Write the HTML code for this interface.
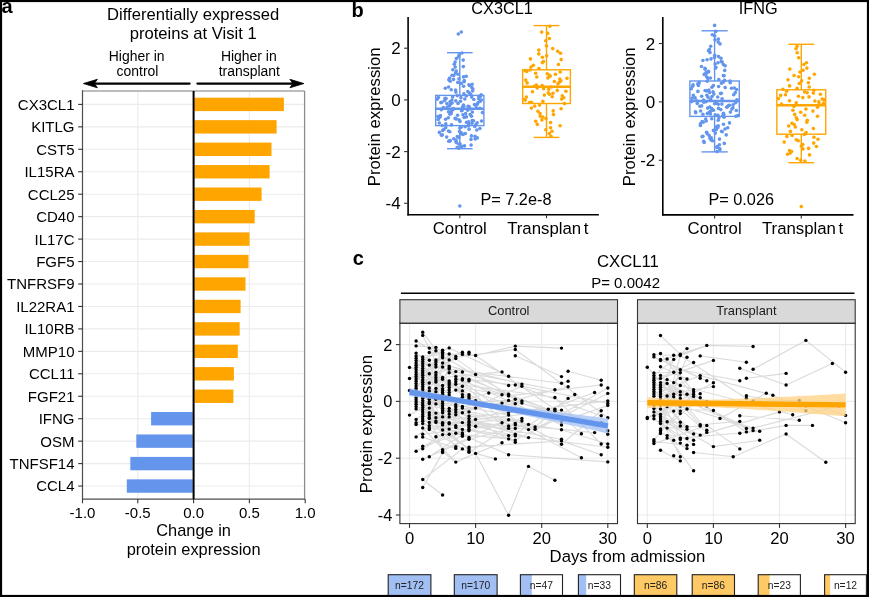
<!DOCTYPE html>
<html><head><meta charset="utf-8"><style>
html,body{margin:0;padding:0;background:#fff;width:869px;height:597px;overflow:hidden}
svg{display:block;filter:blur(0.35px)}
text{font-family:"Liberation Sans", sans-serif}
</style></head><body>
<svg width="869" height="597" viewBox="0 0 869 597" font-family='"Liberation Sans", sans-serif'><line x1="82.5" y1="104.4" x2="304.6" y2="104.4" stroke="#EBEBEB" stroke-width="1.1"/>
<line x1="82.5" y1="126.85000000000001" x2="304.6" y2="126.85000000000001" stroke="#EBEBEB" stroke-width="1.1"/>
<line x1="82.5" y1="149.3" x2="304.6" y2="149.3" stroke="#EBEBEB" stroke-width="1.1"/>
<line x1="82.5" y1="171.75" x2="304.6" y2="171.75" stroke="#EBEBEB" stroke-width="1.1"/>
<line x1="82.5" y1="194.2" x2="304.6" y2="194.2" stroke="#EBEBEB" stroke-width="1.1"/>
<line x1="82.5" y1="216.65" x2="304.6" y2="216.65" stroke="#EBEBEB" stroke-width="1.1"/>
<line x1="82.5" y1="239.1" x2="304.6" y2="239.1" stroke="#EBEBEB" stroke-width="1.1"/>
<line x1="82.5" y1="261.55" x2="304.6" y2="261.55" stroke="#EBEBEB" stroke-width="1.1"/>
<line x1="82.5" y1="284.0" x2="304.6" y2="284.0" stroke="#EBEBEB" stroke-width="1.1"/>
<line x1="82.5" y1="306.45" x2="304.6" y2="306.45" stroke="#EBEBEB" stroke-width="1.1"/>
<line x1="82.5" y1="328.9" x2="304.6" y2="328.9" stroke="#EBEBEB" stroke-width="1.1"/>
<line x1="82.5" y1="351.35" x2="304.6" y2="351.35" stroke="#EBEBEB" stroke-width="1.1"/>
<line x1="82.5" y1="373.79999999999995" x2="304.6" y2="373.79999999999995" stroke="#EBEBEB" stroke-width="1.1"/>
<line x1="82.5" y1="396.25" x2="304.6" y2="396.25" stroke="#EBEBEB" stroke-width="1.1"/>
<line x1="82.5" y1="418.70000000000005" x2="304.6" y2="418.70000000000005" stroke="#EBEBEB" stroke-width="1.1"/>
<line x1="82.5" y1="441.15" x2="304.6" y2="441.15" stroke="#EBEBEB" stroke-width="1.1"/>
<line x1="82.5" y1="463.6" x2="304.6" y2="463.6" stroke="#EBEBEB" stroke-width="1.1"/>
<line x1="82.5" y1="486.04999999999995" x2="304.6" y2="486.04999999999995" stroke="#EBEBEB" stroke-width="1.1"/>
<line x1="137.8" y1="91.0" x2="137.8" y2="499.2" stroke="#EBEBEB" stroke-width="1.1"/>
<line x1="249.4" y1="91.0" x2="249.4" y2="499.2" stroke="#EBEBEB" stroke-width="1.1"/>
<rect x="194.4" y="97.7" width="89.49999999999999" height="13.4" fill="#FFA500" stroke="none" stroke-width="1"/>
<rect x="194.4" y="120.15" width="82.20000000000003" height="13.4" fill="#FFA500" stroke="none" stroke-width="1"/>
<rect x="194.4" y="142.60000000000002" width="77.10000000000001" height="13.4" fill="#FFA500" stroke="none" stroke-width="1"/>
<rect x="194.4" y="165.05" width="75.20000000000003" height="13.4" fill="#FFA500" stroke="none" stroke-width="1"/>
<rect x="194.4" y="187.5" width="67.20000000000003" height="13.4" fill="#FFA500" stroke="none" stroke-width="1"/>
<rect x="194.4" y="209.95000000000002" width="60.3" height="13.4" fill="#FFA500" stroke="none" stroke-width="1"/>
<rect x="194.4" y="232.4" width="55.10000000000001" height="13.4" fill="#FFA500" stroke="none" stroke-width="1"/>
<rect x="194.4" y="254.85000000000002" width="54.10000000000001" height="13.4" fill="#FFA500" stroke="none" stroke-width="1"/>
<rect x="194.4" y="277.3" width="51.10000000000001" height="13.4" fill="#FFA500" stroke="none" stroke-width="1"/>
<rect x="194.4" y="299.75" width="46.2" height="13.4" fill="#FFA500" stroke="none" stroke-width="1"/>
<rect x="194.4" y="322.2" width="45.3" height="13.4" fill="#FFA500" stroke="none" stroke-width="1"/>
<rect x="194.4" y="344.65000000000003" width="43.40000000000002" height="13.4" fill="#FFA500" stroke="none" stroke-width="1"/>
<rect x="194.4" y="367.09999999999997" width="39.500000000000014" height="13.4" fill="#FFA500" stroke="none" stroke-width="1"/>
<rect x="194.4" y="389.55" width="39.000000000000014" height="13.4" fill="#FFA500" stroke="none" stroke-width="1"/>
<rect x="151.1" y="412.00000000000006" width="41.69999999999999" height="13.4" fill="#6495ED" stroke="none" stroke-width="1"/>
<rect x="136.3" y="434.45" width="56.49999999999997" height="13.4" fill="#6495ED" stroke="none" stroke-width="1"/>
<rect x="130.3" y="456.90000000000003" width="62.49999999999997" height="13.4" fill="#6495ED" stroke="none" stroke-width="1"/>
<rect x="126.8" y="479.34999999999997" width="65.99999999999999" height="13.4" fill="#6495ED" stroke="none" stroke-width="1"/>
<line x1="82.5" y1="91.0" x2="304.6" y2="91.0" stroke="#A6A6A6" stroke-width="1.6"/>
<line x1="304.6" y1="91.0" x2="304.6" y2="499.2" stroke="#8C8C8C" stroke-width="1.3"/>
<line x1="82.5" y1="90.2" x2="82.5" y2="499.7" stroke="#4D4D4D" stroke-width="1.2"/>
<line x1="82.0" y1="499.2" x2="305.20000000000005" y2="499.2" stroke="#4D4D4D" stroke-width="1.2"/>
<line x1="193.6" y1="91.0" x2="193.6" y2="499.2" stroke="#000" stroke-width="2.0"/>
<line x1="78.2" y1="104.4" x2="82.5" y2="104.4" stroke="#333" stroke-width="1.1"/>
<text x="74.5" y="109.80000000000001" font-size="15" text-anchor="end" fill="#000">CX3CL1</text>
<line x1="78.2" y1="126.85000000000001" x2="82.5" y2="126.85000000000001" stroke="#333" stroke-width="1.1"/>
<text x="74.5" y="132.25" font-size="15" text-anchor="end" fill="#000">KITLG</text>
<line x1="78.2" y1="149.3" x2="82.5" y2="149.3" stroke="#333" stroke-width="1.1"/>
<text x="74.5" y="154.70000000000002" font-size="15" text-anchor="end" fill="#000">CST5</text>
<line x1="78.2" y1="171.75" x2="82.5" y2="171.75" stroke="#333" stroke-width="1.1"/>
<text x="74.5" y="177.15" font-size="15" text-anchor="end" fill="#000">IL15RA</text>
<line x1="78.2" y1="194.2" x2="82.5" y2="194.2" stroke="#333" stroke-width="1.1"/>
<text x="74.5" y="199.6" font-size="15" text-anchor="end" fill="#000">CCL25</text>
<line x1="78.2" y1="216.65" x2="82.5" y2="216.65" stroke="#333" stroke-width="1.1"/>
<text x="74.5" y="222.05" font-size="15" text-anchor="end" fill="#000">CD40</text>
<line x1="78.2" y1="239.1" x2="82.5" y2="239.1" stroke="#333" stroke-width="1.1"/>
<text x="74.5" y="244.5" font-size="15" text-anchor="end" fill="#000">IL17C</text>
<line x1="78.2" y1="261.55" x2="82.5" y2="261.55" stroke="#333" stroke-width="1.1"/>
<text x="74.5" y="266.95" font-size="15" text-anchor="end" fill="#000">FGF5</text>
<line x1="78.2" y1="284.0" x2="82.5" y2="284.0" stroke="#333" stroke-width="1.1"/>
<text x="74.5" y="289.4" font-size="15" text-anchor="end" fill="#000">TNFRSF9</text>
<line x1="78.2" y1="306.45" x2="82.5" y2="306.45" stroke="#333" stroke-width="1.1"/>
<text x="74.5" y="311.84999999999997" font-size="15" text-anchor="end" fill="#000">IL22RA1</text>
<line x1="78.2" y1="328.9" x2="82.5" y2="328.9" stroke="#333" stroke-width="1.1"/>
<text x="74.5" y="334.29999999999995" font-size="15" text-anchor="end" fill="#000">IL10RB</text>
<line x1="78.2" y1="351.35" x2="82.5" y2="351.35" stroke="#333" stroke-width="1.1"/>
<text x="74.5" y="356.75" font-size="15" text-anchor="end" fill="#000">MMP10</text>
<line x1="78.2" y1="373.79999999999995" x2="82.5" y2="373.79999999999995" stroke="#333" stroke-width="1.1"/>
<text x="74.5" y="379.19999999999993" font-size="15" text-anchor="end" fill="#000">CCL11</text>
<line x1="78.2" y1="396.25" x2="82.5" y2="396.25" stroke="#333" stroke-width="1.1"/>
<text x="74.5" y="401.65" font-size="15" text-anchor="end" fill="#000">FGF21</text>
<line x1="78.2" y1="418.70000000000005" x2="82.5" y2="418.70000000000005" stroke="#333" stroke-width="1.1"/>
<text x="74.5" y="424.1" font-size="15" text-anchor="end" fill="#000">IFNG</text>
<line x1="78.2" y1="441.15" x2="82.5" y2="441.15" stroke="#333" stroke-width="1.1"/>
<text x="74.5" y="446.54999999999995" font-size="15" text-anchor="end" fill="#000">OSM</text>
<line x1="78.2" y1="463.6" x2="82.5" y2="463.6" stroke="#333" stroke-width="1.1"/>
<text x="74.5" y="469.0" font-size="15" text-anchor="end" fill="#000">TNFSF14</text>
<line x1="78.2" y1="486.04999999999995" x2="82.5" y2="486.04999999999995" stroke="#333" stroke-width="1.1"/>
<text x="74.5" y="491.44999999999993" font-size="15" text-anchor="end" fill="#000">CCL4</text>
<line x1="82.5" y1="499.2" x2="82.5" y2="503.2" stroke="#333" stroke-width="1.1"/>
<text x="82.5" y="518" font-size="15" text-anchor="middle" fill="#000">-1.0</text>
<line x1="137.8" y1="499.2" x2="137.8" y2="503.2" stroke="#333" stroke-width="1.1"/>
<text x="137.8" y="518" font-size="15" text-anchor="middle" fill="#000">-0.5</text>
<line x1="193.6" y1="499.2" x2="193.6" y2="503.2" stroke="#333" stroke-width="1.1"/>
<text x="193.6" y="518" font-size="15" text-anchor="middle" fill="#000">0.0</text>
<line x1="249.4" y1="499.2" x2="249.4" y2="503.2" stroke="#333" stroke-width="1.1"/>
<text x="249.4" y="518" font-size="15" text-anchor="middle" fill="#000">0.5</text>
<line x1="305.2" y1="499.2" x2="305.2" y2="503.2" stroke="#333" stroke-width="1.1"/>
<text x="305.2" y="518" font-size="15" text-anchor="middle" fill="#000">1.0</text>
<text x="193.6" y="536.2" font-size="16.4" text-anchor="middle" fill="#000">Change in</text>
<text x="193.6" y="555.0" font-size="16.4" text-anchor="middle" fill="#000">protein expression</text>
<text x="193.2" y="19.9" font-size="16.6" text-anchor="middle" fill="#000">Differentially expressed</text>
<text x="193.2" y="38.6" font-size="16.6" text-anchor="middle" fill="#000">proteins at Visit 1</text>
<text x="136.7" y="61.3" font-size="13.95" text-anchor="middle" fill="#000">Higher in</text>
<text x="137.5" y="76.3" font-size="13.95" text-anchor="middle" fill="#000">control</text>
<text x="248.8" y="61.3" font-size="13.95" text-anchor="middle" fill="#000">Higher in</text>
<text x="249.3" y="76.3" font-size="13.95" text-anchor="middle" fill="#000">transplant</text>
<line x1="189.6" y1="83.55" x2="95" y2="83.55" stroke="#000" stroke-width="2.2" stroke-linecap="round"/>
<path d="M83.4 83.55 L97.4 79.3 L94.4 83.55 L97.4 87.8 Z" fill="#000" stroke="#000" stroke-width="0.8" stroke-linejoin="round"/>
<line x1="197.4" y1="83.55" x2="292" y2="83.55" stroke="#000" stroke-width="2.2" stroke-linecap="round"/>
<path d="M303.9 83.55 L289.9 79.3 L292.9 83.55 L289.9 87.8 Z" fill="#000" stroke="#000" stroke-width="0.8" stroke-linejoin="round"/>
<text x="1.5" y="13.4" font-size="20" text-anchor="start" font-weight="bold" fill="#000">a</text>
<line x1="408.1" y1="17" x2="408.1" y2="215.39999999999998" stroke="#000" stroke-width="1.6"/>
<line x1="407.40000000000003" y1="214.7" x2="598.9" y2="214.7" stroke="#000" stroke-width="1.6"/>
<line x1="404.1" y1="48.2" x2="408.1" y2="48.2" stroke="#333" stroke-width="1.1"/>
<text x="400.6" y="54.2" font-size="17" text-anchor="end" fill="#000">2</text>
<line x1="404.1" y1="99.9" x2="408.1" y2="99.9" stroke="#333" stroke-width="1.1"/>
<text x="400.6" y="105.9" font-size="17" text-anchor="end" fill="#000">0</text>
<line x1="404.1" y1="151.60000000000002" x2="408.1" y2="151.60000000000002" stroke="#333" stroke-width="1.1"/>
<text x="400.6" y="157.60000000000002" font-size="17" text-anchor="end" fill="#000">-2</text>
<line x1="404.1" y1="203.3" x2="408.1" y2="203.3" stroke="#333" stroke-width="1.1"/>
<text x="400.6" y="209.3" font-size="17" text-anchor="end" fill="#000">-4</text>
<line x1="459.8" y1="214.7" x2="459.8" y2="218.2" stroke="#333" stroke-width="1.1"/>
<text x="459.8" y="234.4" font-size="16.8" text-anchor="middle" fill="#000">Control</text>
<line x1="546.5" y1="214.7" x2="546.5" y2="218.2" stroke="#333" stroke-width="1.1"/>
<text x="547.8" y="234.4" font-size="16.8" text-anchor="middle">Transplan<tspan dx="2.6">t</tspan></text>
<text x="502.1" y="14.3" font-size="16.3" text-anchor="middle" fill="#000">CX3CL1</text>
<text x="480.4" y="204.8" font-size="16.3" text-anchor="start" fill="#000">P= 7.2e-8</text>
<text x="380.2" y="116.8" font-size="16.8" text-anchor="middle" fill="#000" transform="rotate(-90 380.2 116.8)">Protein expression</text>
<circle cx="458.9" cy="148.3" r="1.8" fill="#6495ED"/>
<circle cx="457.2" cy="147.5" r="1.8" fill="#6495ED"/>
<circle cx="461.8" cy="146.4" r="1.8" fill="#6495ED"/>
<circle cx="464.5" cy="145.9" r="1.8" fill="#6495ED"/>
<circle cx="471.1" cy="145.1" r="1.8" fill="#6495ED"/>
<circle cx="459.1" cy="144.2" r="1.8" fill="#6495ED"/>
<circle cx="460.0" cy="143.7" r="1.8" fill="#6495ED"/>
<circle cx="456.4" cy="142.6" r="1.8" fill="#6495ED"/>
<circle cx="456.0" cy="141.8" r="1.8" fill="#6495ED"/>
<circle cx="448.7" cy="141.2" r="1.8" fill="#6495ED"/>
<circle cx="450.1" cy="141.0" r="1.8" fill="#6495ED"/>
<circle cx="450.0" cy="140.5" r="1.8" fill="#6495ED"/>
<circle cx="456.0" cy="140.1" r="1.8" fill="#6495ED"/>
<circle cx="471.0" cy="139.4" r="1.8" fill="#6495ED"/>
<circle cx="475.2" cy="138.9" r="1.8" fill="#6495ED"/>
<circle cx="453.7" cy="138.7" r="1.8" fill="#6495ED"/>
<circle cx="477.3" cy="137.9" r="1.8" fill="#6495ED"/>
<circle cx="458.9" cy="137.4" r="1.8" fill="#6495ED"/>
<circle cx="446.7" cy="137.1" r="1.8" fill="#6495ED"/>
<circle cx="457.3" cy="136.6" r="1.8" fill="#6495ED"/>
<circle cx="475.0" cy="136.3" r="1.8" fill="#6495ED"/>
<circle cx="471.4" cy="135.9" r="1.8" fill="#6495ED"/>
<circle cx="441.4" cy="135.2" r="1.8" fill="#6495ED"/>
<circle cx="442.3" cy="134.9" r="1.8" fill="#6495ED"/>
<circle cx="463.2" cy="134.4" r="1.8" fill="#6495ED"/>
<circle cx="460.6" cy="133.9" r="1.8" fill="#6495ED"/>
<circle cx="465.3" cy="133.5" r="1.8" fill="#6495ED"/>
<circle cx="461.3" cy="132.9" r="1.8" fill="#6495ED"/>
<circle cx="439.4" cy="132.4" r="1.8" fill="#6495ED"/>
<circle cx="449.8" cy="131.8" r="1.8" fill="#6495ED"/>
<circle cx="459.5" cy="131.5" r="1.8" fill="#6495ED"/>
<circle cx="448.4" cy="131.0" r="1.8" fill="#6495ED"/>
<circle cx="442.6" cy="130.5" r="1.8" fill="#6495ED"/>
<circle cx="476.8" cy="130.0" r="1.8" fill="#6495ED"/>
<circle cx="443.8" cy="129.6" r="1.8" fill="#6495ED"/>
<circle cx="469.1" cy="129.2" r="1.8" fill="#6495ED"/>
<circle cx="479.9" cy="128.5" r="1.8" fill="#6495ED"/>
<circle cx="459.8" cy="128.0" r="1.8" fill="#6495ED"/>
<circle cx="445.7" cy="127.6" r="1.8" fill="#6495ED"/>
<circle cx="461.2" cy="127.2" r="1.8" fill="#6495ED"/>
<circle cx="465.1" cy="126.8" r="1.8" fill="#6495ED"/>
<circle cx="474.8" cy="126.4" r="1.8" fill="#6495ED"/>
<circle cx="468.4" cy="125.9" r="1.8" fill="#6495ED"/>
<circle cx="442.2" cy="125.5" r="1.8" fill="#6495ED"/>
<circle cx="451.5" cy="124.9" r="1.8" fill="#6495ED"/>
<circle cx="475.8" cy="124.7" r="1.8" fill="#6495ED"/>
<circle cx="468.8" cy="124.1" r="1.8" fill="#6495ED"/>
<circle cx="445.8" cy="123.9" r="1.8" fill="#6495ED"/>
<circle cx="472.0" cy="123.3" r="1.8" fill="#6495ED"/>
<circle cx="439.3" cy="123.0" r="1.8" fill="#6495ED"/>
<circle cx="477.1" cy="122.8" r="1.8" fill="#6495ED"/>
<circle cx="466.6" cy="122.4" r="1.8" fill="#6495ED"/>
<circle cx="468.6" cy="121.8" r="1.8" fill="#6495ED"/>
<circle cx="460.0" cy="121.5" r="1.8" fill="#6495ED"/>
<circle cx="481.5" cy="121.0" r="1.8" fill="#6495ED"/>
<circle cx="473.5" cy="120.7" r="1.8" fill="#6495ED"/>
<circle cx="472.2" cy="120.5" r="1.8" fill="#6495ED"/>
<circle cx="459.1" cy="119.9" r="1.8" fill="#6495ED"/>
<circle cx="438.2" cy="119.5" r="1.8" fill="#6495ED"/>
<circle cx="445.6" cy="119.2" r="1.8" fill="#6495ED"/>
<circle cx="456.2" cy="118.9" r="1.8" fill="#6495ED"/>
<circle cx="455.1" cy="118.4" r="1.8" fill="#6495ED"/>
<circle cx="448.3" cy="117.8" r="1.8" fill="#6495ED"/>
<circle cx="464.1" cy="117.5" r="1.8" fill="#6495ED"/>
<circle cx="439.9" cy="117.3" r="1.8" fill="#6495ED"/>
<circle cx="466.4" cy="116.9" r="1.8" fill="#6495ED"/>
<circle cx="437.9" cy="116.5" r="1.8" fill="#6495ED"/>
<circle cx="471.5" cy="116.2" r="1.8" fill="#6495ED"/>
<circle cx="440.4" cy="115.5" r="1.8" fill="#6495ED"/>
<circle cx="457.6" cy="115.3" r="1.8" fill="#6495ED"/>
<circle cx="463.0" cy="114.8" r="1.8" fill="#6495ED"/>
<circle cx="470.2" cy="114.5" r="1.8" fill="#6495ED"/>
<circle cx="449.9" cy="114.2" r="1.8" fill="#6495ED"/>
<circle cx="465.6" cy="113.6" r="1.8" fill="#6495ED"/>
<circle cx="451.2" cy="113.4" r="1.8" fill="#6495ED"/>
<circle cx="450.8" cy="112.9" r="1.8" fill="#6495ED"/>
<circle cx="482.4" cy="112.6" r="1.8" fill="#6495ED"/>
<circle cx="472.4" cy="112.1" r="1.8" fill="#6495ED"/>
<circle cx="448.5" cy="111.8" r="1.8" fill="#6495ED"/>
<circle cx="451.4" cy="111.4" r="1.8" fill="#6495ED"/>
<circle cx="461.6" cy="110.8" r="1.8" fill="#6495ED"/>
<circle cx="462.0" cy="110.5" r="1.8" fill="#6495ED"/>
<circle cx="467.7" cy="110.2" r="1.8" fill="#6495ED"/>
<circle cx="441.3" cy="109.7" r="1.8" fill="#6495ED"/>
<circle cx="453.0" cy="109.5" r="1.8" fill="#6495ED"/>
<circle cx="470.6" cy="109.0" r="1.8" fill="#6495ED"/>
<circle cx="453.3" cy="108.6" r="1.8" fill="#6495ED"/>
<circle cx="479.9" cy="108.3" r="1.8" fill="#6495ED"/>
<circle cx="476.7" cy="108.1" r="1.8" fill="#6495ED"/>
<circle cx="443.3" cy="107.6" r="1.8" fill="#6495ED"/>
<circle cx="462.7" cy="107.5" r="1.8" fill="#6495ED"/>
<circle cx="447.2" cy="107.1" r="1.8" fill="#6495ED"/>
<circle cx="462.9" cy="106.7" r="1.8" fill="#6495ED"/>
<circle cx="469.1" cy="106.5" r="1.8" fill="#6495ED"/>
<circle cx="468.1" cy="106.2" r="1.8" fill="#6495ED"/>
<circle cx="463.8" cy="105.9" r="1.8" fill="#6495ED"/>
<circle cx="449.7" cy="105.6" r="1.8" fill="#6495ED"/>
<circle cx="475.6" cy="105.2" r="1.8" fill="#6495ED"/>
<circle cx="463.4" cy="105.0" r="1.8" fill="#6495ED"/>
<circle cx="474.5" cy="104.6" r="1.8" fill="#6495ED"/>
<circle cx="477.2" cy="104.3" r="1.8" fill="#6495ED"/>
<circle cx="450.5" cy="104.0" r="1.8" fill="#6495ED"/>
<circle cx="446.9" cy="103.5" r="1.8" fill="#6495ED"/>
<circle cx="458.0" cy="103.4" r="1.8" fill="#6495ED"/>
<circle cx="452.1" cy="103.0" r="1.8" fill="#6495ED"/>
<circle cx="440.8" cy="102.6" r="1.8" fill="#6495ED"/>
<circle cx="478.1" cy="102.5" r="1.8" fill="#6495ED"/>
<circle cx="441.8" cy="102.2" r="1.8" fill="#6495ED"/>
<circle cx="450.1" cy="101.7" r="1.8" fill="#6495ED"/>
<circle cx="480.1" cy="101.4" r="1.8" fill="#6495ED"/>
<circle cx="460.5" cy="101.2" r="1.8" fill="#6495ED"/>
<circle cx="455.8" cy="100.9" r="1.8" fill="#6495ED"/>
<circle cx="444.7" cy="100.5" r="1.8" fill="#6495ED"/>
<circle cx="451.9" cy="100.1" r="1.8" fill="#6495ED"/>
<circle cx="481.4" cy="100.0" r="1.8" fill="#6495ED"/>
<circle cx="473.8" cy="99.5" r="1.8" fill="#6495ED"/>
<circle cx="437.2" cy="99.2" r="1.8" fill="#6495ED"/>
<circle cx="464.8" cy="99.0" r="1.8" fill="#6495ED"/>
<circle cx="478.7" cy="98.7" r="1.8" fill="#6495ED"/>
<circle cx="446.1" cy="98.5" r="1.8" fill="#6495ED"/>
<circle cx="445.1" cy="98.2" r="1.8" fill="#6495ED"/>
<circle cx="460.9" cy="97.6" r="1.8" fill="#6495ED"/>
<circle cx="438.4" cy="97.5" r="1.8" fill="#6495ED"/>
<circle cx="471.7" cy="97.1" r="1.8" fill="#6495ED"/>
<circle cx="452.6" cy="96.9" r="1.8" fill="#6495ED"/>
<circle cx="480.3" cy="96.4" r="1.8" fill="#6495ED"/>
<circle cx="478.8" cy="96.2" r="1.8" fill="#6495ED"/>
<circle cx="466.3" cy="95.9" r="1.8" fill="#6495ED"/>
<circle cx="457.3" cy="95.6" r="1.8" fill="#6495ED"/>
<circle cx="481.2" cy="94.9" r="1.8" fill="#6495ED"/>
<circle cx="470.8" cy="94.6" r="1.8" fill="#6495ED"/>
<circle cx="463.9" cy="93.8" r="1.8" fill="#6495ED"/>
<circle cx="469.4" cy="93.0" r="1.8" fill="#6495ED"/>
<circle cx="455.8" cy="92.1" r="1.8" fill="#6495ED"/>
<circle cx="467.8" cy="91.5" r="1.8" fill="#6495ED"/>
<circle cx="472.6" cy="91.0" r="1.8" fill="#6495ED"/>
<circle cx="455.6" cy="90.0" r="1.8" fill="#6495ED"/>
<circle cx="451.2" cy="89.7" r="1.8" fill="#6495ED"/>
<circle cx="472.9" cy="89.1" r="1.8" fill="#6495ED"/>
<circle cx="445.3" cy="88.3" r="1.8" fill="#6495ED"/>
<circle cx="471.9" cy="87.5" r="1.8" fill="#6495ED"/>
<circle cx="448.6" cy="87.0" r="1.8" fill="#6495ED"/>
<circle cx="463.6" cy="86.3" r="1.8" fill="#6495ED"/>
<circle cx="469.5" cy="85.5" r="1.8" fill="#6495ED"/>
<circle cx="468.9" cy="84.7" r="1.8" fill="#6495ED"/>
<circle cx="472.1" cy="84.2" r="1.8" fill="#6495ED"/>
<circle cx="461.3" cy="83.4" r="1.8" fill="#6495ED"/>
<circle cx="457.8" cy="82.4" r="1.8" fill="#6495ED"/>
<circle cx="464.2" cy="81.7" r="1.8" fill="#6495ED"/>
<circle cx="450.2" cy="81.2" r="1.8" fill="#6495ED"/>
<circle cx="464.2" cy="80.5" r="1.8" fill="#6495ED"/>
<circle cx="448.8" cy="79.8" r="1.8" fill="#6495ED"/>
<circle cx="453.5" cy="79.4" r="1.8" fill="#6495ED"/>
<circle cx="459.0" cy="78.8" r="1.8" fill="#6495ED"/>
<circle cx="449.7" cy="78.1" r="1.8" fill="#6495ED"/>
<circle cx="463.5" cy="76.9" r="1.8" fill="#6495ED"/>
<circle cx="466.2" cy="76.3" r="1.8" fill="#6495ED"/>
<circle cx="453.7" cy="75.5" r="1.8" fill="#6495ED"/>
<circle cx="452.1" cy="75.3" r="1.8" fill="#6495ED"/>
<circle cx="458.0" cy="74.3" r="1.8" fill="#6495ED"/>
<circle cx="455.5" cy="73.1" r="1.8" fill="#6495ED"/>
<circle cx="456.2" cy="71.0" r="1.8" fill="#6495ED"/>
<circle cx="452.8" cy="69.8" r="1.8" fill="#6495ED"/>
<circle cx="455.2" cy="67.1" r="1.8" fill="#6495ED"/>
<circle cx="463.3" cy="66.6" r="1.8" fill="#6495ED"/>
<circle cx="454.3" cy="64.2" r="1.8" fill="#6495ED"/>
<circle cx="455.1" cy="62.1" r="1.8" fill="#6495ED"/>
<circle cx="463.2" cy="60.1" r="1.8" fill="#6495ED"/>
<circle cx="456.4" cy="58.6" r="1.8" fill="#6495ED"/>
<circle cx="458.6" cy="56.8" r="1.8" fill="#6495ED"/>
<circle cx="459.1" cy="54.9" r="1.8" fill="#6495ED"/>
<circle cx="462.0" cy="53.0" r="1.8" fill="#6495ED"/>
<rect x="435.7" y="95.4" width="48.2" height="30.19999999999999" fill="none" stroke="#6495ED" stroke-width="1.4"/>
<line x1="435.7" y1="108.8" x2="483.90000000000003" y2="108.8" stroke="#6495ED" stroke-width="2.6"/>
<line x1="459.8" y1="95.4" x2="459.8" y2="52.7" stroke="#6495ED" stroke-width="1.4"/>
<line x1="459.8" y1="125.6" x2="459.8" y2="148.7" stroke="#6495ED" stroke-width="1.4"/>
<line x1="447.0" y1="52.7" x2="472.6" y2="52.7" stroke="#6495ED" stroke-width="1.4"/>
<line x1="447.0" y1="148.7" x2="472.6" y2="148.7" stroke="#6495ED" stroke-width="1.4"/>
<circle cx="458.3" cy="34.0" r="1.8" fill="#6495ED"/>
<circle cx="461.3" cy="32.0" r="1.8" fill="#6495ED"/>
<circle cx="459.8" cy="206.0" r="1.8" fill="#6495ED"/>
<circle cx="551.0" cy="136.3" r="1.8" fill="#FFA500"/>
<circle cx="549.4" cy="133.6" r="1.8" fill="#FFA500"/>
<circle cx="552.0" cy="131.2" r="1.8" fill="#FFA500"/>
<circle cx="545.8" cy="129.8" r="1.8" fill="#FFA500"/>
<circle cx="550.6" cy="127.7" r="1.8" fill="#FFA500"/>
<circle cx="560.1" cy="125.7" r="1.8" fill="#FFA500"/>
<circle cx="537.3" cy="124.4" r="1.8" fill="#FFA500"/>
<circle cx="550.6" cy="122.5" r="1.8" fill="#FFA500"/>
<circle cx="535.7" cy="121.2" r="1.8" fill="#FFA500"/>
<circle cx="541.9" cy="119.9" r="1.8" fill="#FFA500"/>
<circle cx="546.0" cy="118.6" r="1.8" fill="#FFA500"/>
<circle cx="542.8" cy="117.1" r="1.8" fill="#FFA500"/>
<circle cx="540.3" cy="116.3" r="1.8" fill="#FFA500"/>
<circle cx="553.5" cy="114.6" r="1.8" fill="#FFA500"/>
<circle cx="540.0" cy="113.5" r="1.8" fill="#FFA500"/>
<circle cx="537.9" cy="111.3" r="1.8" fill="#FFA500"/>
<circle cx="553.2" cy="110.9" r="1.8" fill="#FFA500"/>
<circle cx="561.1" cy="108.7" r="1.8" fill="#FFA500"/>
<circle cx="531.4" cy="108.1" r="1.8" fill="#FFA500"/>
<circle cx="534.7" cy="106.1" r="1.8" fill="#FFA500"/>
<circle cx="539.6" cy="105.1" r="1.8" fill="#FFA500"/>
<circle cx="564.5" cy="103.6" r="1.8" fill="#FFA500"/>
<circle cx="529.6" cy="102.5" r="1.8" fill="#FFA500"/>
<circle cx="531.4" cy="102.2" r="1.8" fill="#FFA500"/>
<circle cx="542.9" cy="101.4" r="1.8" fill="#FFA500"/>
<circle cx="525.3" cy="100.1" r="1.8" fill="#FFA500"/>
<circle cx="523.9" cy="99.6" r="1.8" fill="#FFA500"/>
<circle cx="561.6" cy="99.1" r="1.8" fill="#FFA500"/>
<circle cx="563.8" cy="97.7" r="1.8" fill="#FFA500"/>
<circle cx="526.4" cy="97.0" r="1.8" fill="#FFA500"/>
<circle cx="552.2" cy="96.7" r="1.8" fill="#FFA500"/>
<circle cx="562.3" cy="95.7" r="1.8" fill="#FFA500"/>
<circle cx="544.3" cy="95.1" r="1.8" fill="#FFA500"/>
<circle cx="549.4" cy="94.2" r="1.8" fill="#FFA500"/>
<circle cx="553.0" cy="93.3" r="1.8" fill="#FFA500"/>
<circle cx="548.3" cy="92.8" r="1.8" fill="#FFA500"/>
<circle cx="532.5" cy="91.7" r="1.8" fill="#FFA500"/>
<circle cx="565.9" cy="91.3" r="1.8" fill="#FFA500"/>
<circle cx="557.3" cy="90.4" r="1.8" fill="#FFA500"/>
<circle cx="548.7" cy="89.2" r="1.8" fill="#FFA500"/>
<circle cx="543.6" cy="88.7" r="1.8" fill="#FFA500"/>
<circle cx="537.2" cy="87.9" r="1.8" fill="#FFA500"/>
<circle cx="551.5" cy="87.0" r="1.8" fill="#FFA500"/>
<circle cx="534.3" cy="86.3" r="1.8" fill="#FFA500"/>
<circle cx="542.2" cy="85.6" r="1.8" fill="#FFA500"/>
<circle cx="536.4" cy="85.0" r="1.8" fill="#FFA500"/>
<circle cx="558.0" cy="83.8" r="1.8" fill="#FFA500"/>
<circle cx="527.1" cy="82.9" r="1.8" fill="#FFA500"/>
<circle cx="559.4" cy="82.1" r="1.8" fill="#FFA500"/>
<circle cx="554.4" cy="81.5" r="1.8" fill="#FFA500"/>
<circle cx="560.9" cy="80.9" r="1.8" fill="#FFA500"/>
<circle cx="525.7" cy="80.1" r="1.8" fill="#FFA500"/>
<circle cx="559.8" cy="79.1" r="1.8" fill="#FFA500"/>
<circle cx="567.0" cy="78.3" r="1.8" fill="#FFA500"/>
<circle cx="547.9" cy="77.9" r="1.8" fill="#FFA500"/>
<circle cx="536.8" cy="77.0" r="1.8" fill="#FFA500"/>
<circle cx="550.1" cy="76.2" r="1.8" fill="#FFA500"/>
<circle cx="549.7" cy="75.3" r="1.8" fill="#FFA500"/>
<circle cx="555.5" cy="74.3" r="1.8" fill="#FFA500"/>
<circle cx="547.2" cy="73.7" r="1.8" fill="#FFA500"/>
<circle cx="535.7" cy="73.2" r="1.8" fill="#FFA500"/>
<circle cx="560.2" cy="72.0" r="1.8" fill="#FFA500"/>
<circle cx="526.7" cy="71.4" r="1.8" fill="#FFA500"/>
<circle cx="524.9" cy="70.6" r="1.8" fill="#FFA500"/>
<circle cx="530.0" cy="70.0" r="1.8" fill="#FFA500"/>
<circle cx="539.0" cy="68.5" r="1.8" fill="#FFA500"/>
<circle cx="531.1" cy="67.1" r="1.8" fill="#FFA500"/>
<circle cx="533.4" cy="65.2" r="1.8" fill="#FFA500"/>
<circle cx="558.4" cy="64.5" r="1.8" fill="#FFA500"/>
<circle cx="542.4" cy="62.6" r="1.8" fill="#FFA500"/>
<circle cx="543.5" cy="61.6" r="1.8" fill="#FFA500"/>
<circle cx="561.2" cy="59.6" r="1.8" fill="#FFA500"/>
<circle cx="530.4" cy="58.9" r="1.8" fill="#FFA500"/>
<circle cx="542.4" cy="57.2" r="1.8" fill="#FFA500"/>
<circle cx="546.7" cy="55.7" r="1.8" fill="#FFA500"/>
<circle cx="538.8" cy="53.9" r="1.8" fill="#FFA500"/>
<circle cx="560.5" cy="53.2" r="1.8" fill="#FFA500"/>
<circle cx="557.7" cy="51.3" r="1.8" fill="#FFA500"/>
<circle cx="538.8" cy="50.1" r="1.8" fill="#FFA500"/>
<circle cx="552.7" cy="48.6" r="1.8" fill="#FFA500"/>
<circle cx="546.5" cy="45.9" r="1.8" fill="#FFA500"/>
<circle cx="545.7" cy="40.8" r="1.8" fill="#FFA500"/>
<circle cx="549.4" cy="38.5" r="1.8" fill="#FFA500"/>
<circle cx="547.7" cy="33.4" r="1.8" fill="#FFA500"/>
<circle cx="541.7" cy="32.1" r="1.8" fill="#FFA500"/>
<circle cx="549.8" cy="26.2" r="1.8" fill="#FFA500"/>
<rect x="522.65" y="69.8" width="47.7" height="33.7" fill="none" stroke="#FFA500" stroke-width="1.4"/>
<line x1="522.65" y1="86.7" x2="570.35" y2="86.7" stroke="#FFA500" stroke-width="2.6"/>
<line x1="546.5" y1="69.8" x2="546.5" y2="25.599999999999994" stroke="#FFA500" stroke-width="1.4"/>
<line x1="546.5" y1="103.5" x2="546.5" y2="137.4" stroke="#FFA500" stroke-width="1.4"/>
<line x1="533.55" y1="25.599999999999994" x2="559.45" y2="25.599999999999994" stroke="#FFA500" stroke-width="1.4"/>
<line x1="533.55" y1="137.4" x2="559.45" y2="137.4" stroke="#FFA500" stroke-width="1.4"/>
<line x1="662.8" y1="17" x2="662.8" y2="215.6" stroke="#000" stroke-width="1.6"/>
<line x1="662.0999999999999" y1="214.9" x2="853.5" y2="214.9" stroke="#000" stroke-width="1.6"/>
<line x1="658.8" y1="43.50000000000001" x2="662.8" y2="43.50000000000001" stroke="#333" stroke-width="1.1"/>
<text x="655.3" y="49.50000000000001" font-size="17" text-anchor="end" fill="#000">2</text>
<line x1="658.8" y1="101.9" x2="662.8" y2="101.9" stroke="#333" stroke-width="1.1"/>
<text x="655.3" y="107.9" font-size="17" text-anchor="end" fill="#000">0</text>
<line x1="658.8" y1="160.3" x2="662.8" y2="160.3" stroke="#333" stroke-width="1.1"/>
<text x="655.3" y="166.3" font-size="17" text-anchor="end" fill="#000">-2</text>
<line x1="714.6" y1="214.9" x2="714.6" y2="218.4" stroke="#333" stroke-width="1.1"/>
<text x="714.6" y="234.4" font-size="16.8" text-anchor="middle" fill="#000">Control</text>
<line x1="801.3" y1="214.9" x2="801.3" y2="218.4" stroke="#333" stroke-width="1.1"/>
<text x="802.5999999999999" y="234.4" font-size="16.8" text-anchor="middle">Transplan<tspan dx="2.6">t</tspan></text>
<text x="758.2" y="14.3" font-size="16.3" text-anchor="middle" fill="#000">IFNG</text>
<text x="708.4" y="204.5" font-size="16.3" text-anchor="start" fill="#000">P= 0.026</text>
<text x="634.6" y="116.8" font-size="16.8" text-anchor="middle" fill="#000" transform="rotate(-90 634.6 116.8)">Protein expression</text>
<circle cx="717.1" cy="151.6" r="1.8" fill="#6495ED"/>
<circle cx="719.9" cy="149.8" r="1.8" fill="#6495ED"/>
<circle cx="719.6" cy="148.6" r="1.8" fill="#6495ED"/>
<circle cx="716.9" cy="147.5" r="1.8" fill="#6495ED"/>
<circle cx="717.2" cy="146.5" r="1.8" fill="#6495ED"/>
<circle cx="719.4" cy="144.7" r="1.8" fill="#6495ED"/>
<circle cx="724.3" cy="143.4" r="1.8" fill="#6495ED"/>
<circle cx="704.2" cy="142.5" r="1.8" fill="#6495ED"/>
<circle cx="703.7" cy="141.2" r="1.8" fill="#6495ED"/>
<circle cx="712.6" cy="140.7" r="1.8" fill="#6495ED"/>
<circle cx="711.1" cy="140.1" r="1.8" fill="#6495ED"/>
<circle cx="719.5" cy="139.1" r="1.8" fill="#6495ED"/>
<circle cx="709.9" cy="138.3" r="1.8" fill="#6495ED"/>
<circle cx="711.3" cy="137.8" r="1.8" fill="#6495ED"/>
<circle cx="702.1" cy="136.7" r="1.8" fill="#6495ED"/>
<circle cx="702.9" cy="136.3" r="1.8" fill="#6495ED"/>
<circle cx="709.2" cy="135.6" r="1.8" fill="#6495ED"/>
<circle cx="726.2" cy="134.9" r="1.8" fill="#6495ED"/>
<circle cx="707.2" cy="133.7" r="1.8" fill="#6495ED"/>
<circle cx="715.3" cy="133.1" r="1.8" fill="#6495ED"/>
<circle cx="706.6" cy="132.3" r="1.8" fill="#6495ED"/>
<circle cx="722.2" cy="131.7" r="1.8" fill="#6495ED"/>
<circle cx="721.6" cy="131.3" r="1.8" fill="#6495ED"/>
<circle cx="713.4" cy="130.4" r="1.8" fill="#6495ED"/>
<circle cx="716.3" cy="129.6" r="1.8" fill="#6495ED"/>
<circle cx="725.0" cy="129.0" r="1.8" fill="#6495ED"/>
<circle cx="727.7" cy="127.8" r="1.8" fill="#6495ED"/>
<circle cx="717.8" cy="127.4" r="1.8" fill="#6495ED"/>
<circle cx="716.6" cy="126.8" r="1.8" fill="#6495ED"/>
<circle cx="718.2" cy="125.7" r="1.8" fill="#6495ED"/>
<circle cx="700.4" cy="125.4" r="1.8" fill="#6495ED"/>
<circle cx="723.5" cy="124.2" r="1.8" fill="#6495ED"/>
<circle cx="700.5" cy="123.7" r="1.8" fill="#6495ED"/>
<circle cx="729.5" cy="122.9" r="1.8" fill="#6495ED"/>
<circle cx="703.3" cy="122.3" r="1.8" fill="#6495ED"/>
<circle cx="702.2" cy="121.5" r="1.8" fill="#6495ED"/>
<circle cx="706.2" cy="121.0" r="1.8" fill="#6495ED"/>
<circle cx="718.2" cy="120.3" r="1.8" fill="#6495ED"/>
<circle cx="705.7" cy="119.1" r="1.8" fill="#6495ED"/>
<circle cx="711.7" cy="118.7" r="1.8" fill="#6495ED"/>
<circle cx="718.9" cy="117.7" r="1.8" fill="#6495ED"/>
<circle cx="724.1" cy="117.3" r="1.8" fill="#6495ED"/>
<circle cx="735.9" cy="116.3" r="1.8" fill="#6495ED"/>
<circle cx="722.7" cy="115.9" r="1.8" fill="#6495ED"/>
<circle cx="737.7" cy="115.6" r="1.8" fill="#6495ED"/>
<circle cx="717.9" cy="115.2" r="1.8" fill="#6495ED"/>
<circle cx="715.3" cy="114.9" r="1.8" fill="#6495ED"/>
<circle cx="723.8" cy="114.5" r="1.8" fill="#6495ED"/>
<circle cx="702.9" cy="114.3" r="1.8" fill="#6495ED"/>
<circle cx="710.4" cy="113.9" r="1.8" fill="#6495ED"/>
<circle cx="707.4" cy="113.4" r="1.8" fill="#6495ED"/>
<circle cx="723.4" cy="113.2" r="1.8" fill="#6495ED"/>
<circle cx="695.7" cy="112.7" r="1.8" fill="#6495ED"/>
<circle cx="709.5" cy="112.3" r="1.8" fill="#6495ED"/>
<circle cx="730.4" cy="112.1" r="1.8" fill="#6495ED"/>
<circle cx="695.5" cy="111.7" r="1.8" fill="#6495ED"/>
<circle cx="710.2" cy="111.3" r="1.8" fill="#6495ED"/>
<circle cx="700.6" cy="111.0" r="1.8" fill="#6495ED"/>
<circle cx="736.3" cy="110.5" r="1.8" fill="#6495ED"/>
<circle cx="713.5" cy="110.3" r="1.8" fill="#6495ED"/>
<circle cx="712.4" cy="110.0" r="1.8" fill="#6495ED"/>
<circle cx="720.8" cy="109.6" r="1.8" fill="#6495ED"/>
<circle cx="731.9" cy="109.1" r="1.8" fill="#6495ED"/>
<circle cx="711.7" cy="108.6" r="1.8" fill="#6495ED"/>
<circle cx="718.5" cy="108.4" r="1.8" fill="#6495ED"/>
<circle cx="707.6" cy="108.1" r="1.8" fill="#6495ED"/>
<circle cx="733.0" cy="107.7" r="1.8" fill="#6495ED"/>
<circle cx="726.7" cy="107.3" r="1.8" fill="#6495ED"/>
<circle cx="709.8" cy="107.1" r="1.8" fill="#6495ED"/>
<circle cx="727.5" cy="106.6" r="1.8" fill="#6495ED"/>
<circle cx="699.9" cy="106.2" r="1.8" fill="#6495ED"/>
<circle cx="701.6" cy="105.9" r="1.8" fill="#6495ED"/>
<circle cx="728.6" cy="105.6" r="1.8" fill="#6495ED"/>
<circle cx="729.5" cy="105.3" r="1.8" fill="#6495ED"/>
<circle cx="733.1" cy="104.8" r="1.8" fill="#6495ED"/>
<circle cx="718.3" cy="104.3" r="1.8" fill="#6495ED"/>
<circle cx="721.9" cy="104.1" r="1.8" fill="#6495ED"/>
<circle cx="714.6" cy="103.7" r="1.8" fill="#6495ED"/>
<circle cx="697.3" cy="103.4" r="1.8" fill="#6495ED"/>
<circle cx="716.3" cy="103.1" r="1.8" fill="#6495ED"/>
<circle cx="735.5" cy="102.8" r="1.8" fill="#6495ED"/>
<circle cx="703.8" cy="102.2" r="1.8" fill="#6495ED"/>
<circle cx="706.0" cy="101.8" r="1.8" fill="#6495ED"/>
<circle cx="691.5" cy="101.6" r="1.8" fill="#6495ED"/>
<circle cx="736.8" cy="101.1" r="1.8" fill="#6495ED"/>
<circle cx="696.6" cy="100.7" r="1.8" fill="#6495ED"/>
<circle cx="703.6" cy="100.1" r="1.8" fill="#6495ED"/>
<circle cx="737.0" cy="99.7" r="1.8" fill="#6495ED"/>
<circle cx="710.6" cy="99.4" r="1.8" fill="#6495ED"/>
<circle cx="722.1" cy="98.7" r="1.8" fill="#6495ED"/>
<circle cx="692.2" cy="98.2" r="1.8" fill="#6495ED"/>
<circle cx="695.1" cy="97.9" r="1.8" fill="#6495ED"/>
<circle cx="708.0" cy="97.3" r="1.8" fill="#6495ED"/>
<circle cx="717.7" cy="97.0" r="1.8" fill="#6495ED"/>
<circle cx="712.0" cy="96.6" r="1.8" fill="#6495ED"/>
<circle cx="701.7" cy="96.2" r="1.8" fill="#6495ED"/>
<circle cx="693.3" cy="95.4" r="1.8" fill="#6495ED"/>
<circle cx="706.9" cy="95.2" r="1.8" fill="#6495ED"/>
<circle cx="733.7" cy="94.8" r="1.8" fill="#6495ED"/>
<circle cx="713.9" cy="94.1" r="1.8" fill="#6495ED"/>
<circle cx="720.5" cy="93.6" r="1.8" fill="#6495ED"/>
<circle cx="721.4" cy="93.2" r="1.8" fill="#6495ED"/>
<circle cx="735.3" cy="92.6" r="1.8" fill="#6495ED"/>
<circle cx="709.6" cy="92.5" r="1.8" fill="#6495ED"/>
<circle cx="713.1" cy="91.9" r="1.8" fill="#6495ED"/>
<circle cx="697.9" cy="91.4" r="1.8" fill="#6495ED"/>
<circle cx="706.5" cy="90.9" r="1.8" fill="#6495ED"/>
<circle cx="705.1" cy="90.5" r="1.8" fill="#6495ED"/>
<circle cx="708.9" cy="90.1" r="1.8" fill="#6495ED"/>
<circle cx="736.6" cy="89.5" r="1.8" fill="#6495ED"/>
<circle cx="691.3" cy="88.8" r="1.8" fill="#6495ED"/>
<circle cx="731.5" cy="88.3" r="1.8" fill="#6495ED"/>
<circle cx="734.4" cy="88.0" r="1.8" fill="#6495ED"/>
<circle cx="725.2" cy="87.6" r="1.8" fill="#6495ED"/>
<circle cx="711.9" cy="87.2" r="1.8" fill="#6495ED"/>
<circle cx="718.6" cy="86.5" r="1.8" fill="#6495ED"/>
<circle cx="692.6" cy="86.2" r="1.8" fill="#6495ED"/>
<circle cx="713.4" cy="85.6" r="1.8" fill="#6495ED"/>
<circle cx="698.4" cy="85.4" r="1.8" fill="#6495ED"/>
<circle cx="693.1" cy="84.9" r="1.8" fill="#6495ED"/>
<circle cx="698.4" cy="84.2" r="1.8" fill="#6495ED"/>
<circle cx="697.8" cy="83.7" r="1.8" fill="#6495ED"/>
<circle cx="721.5" cy="83.2" r="1.8" fill="#6495ED"/>
<circle cx="730.2" cy="82.8" r="1.8" fill="#6495ED"/>
<circle cx="699.2" cy="82.4" r="1.8" fill="#6495ED"/>
<circle cx="723.4" cy="81.9" r="1.8" fill="#6495ED"/>
<circle cx="707.2" cy="81.3" r="1.8" fill="#6495ED"/>
<circle cx="730.0" cy="81.1" r="1.8" fill="#6495ED"/>
<circle cx="724.6" cy="80.2" r="1.8" fill="#6495ED"/>
<circle cx="718.8" cy="79.5" r="1.8" fill="#6495ED"/>
<circle cx="707.9" cy="78.4" r="1.8" fill="#6495ED"/>
<circle cx="710.4" cy="78.0" r="1.8" fill="#6495ED"/>
<circle cx="706.6" cy="76.8" r="1.8" fill="#6495ED"/>
<circle cx="724.1" cy="75.8" r="1.8" fill="#6495ED"/>
<circle cx="723.4" cy="75.6" r="1.8" fill="#6495ED"/>
<circle cx="704.2" cy="74.4" r="1.8" fill="#6495ED"/>
<circle cx="706.2" cy="73.5" r="1.8" fill="#6495ED"/>
<circle cx="706.1" cy="72.6" r="1.8" fill="#6495ED"/>
<circle cx="708.5" cy="71.9" r="1.8" fill="#6495ED"/>
<circle cx="708.4" cy="71.3" r="1.8" fill="#6495ED"/>
<circle cx="724.7" cy="70.4" r="1.8" fill="#6495ED"/>
<circle cx="705.2" cy="69.2" r="1.8" fill="#6495ED"/>
<circle cx="705.0" cy="68.4" r="1.8" fill="#6495ED"/>
<circle cx="715.5" cy="68.1" r="1.8" fill="#6495ED"/>
<circle cx="715.9" cy="67.3" r="1.8" fill="#6495ED"/>
<circle cx="701.5" cy="66.5" r="1.8" fill="#6495ED"/>
<circle cx="725.2" cy="65.7" r="1.8" fill="#6495ED"/>
<circle cx="723.4" cy="64.6" r="1.8" fill="#6495ED"/>
<circle cx="715.1" cy="64.0" r="1.8" fill="#6495ED"/>
<circle cx="718.0" cy="62.7" r="1.8" fill="#6495ED"/>
<circle cx="722.2" cy="62.0" r="1.8" fill="#6495ED"/>
<circle cx="721.2" cy="61.6" r="1.8" fill="#6495ED"/>
<circle cx="702.9" cy="60.5" r="1.8" fill="#6495ED"/>
<circle cx="707.1" cy="59.8" r="1.8" fill="#6495ED"/>
<circle cx="711.0" cy="58.9" r="1.8" fill="#6495ED"/>
<circle cx="721.0" cy="58.2" r="1.8" fill="#6495ED"/>
<circle cx="714.4" cy="57.4" r="1.8" fill="#6495ED"/>
<circle cx="718.5" cy="56.6" r="1.8" fill="#6495ED"/>
<circle cx="714.7" cy="55.3" r="1.8" fill="#6495ED"/>
<circle cx="710.0" cy="52.6" r="1.8" fill="#6495ED"/>
<circle cx="708.5" cy="50.8" r="1.8" fill="#6495ED"/>
<circle cx="709.4" cy="49.5" r="1.8" fill="#6495ED"/>
<circle cx="710.7" cy="46.3" r="1.8" fill="#6495ED"/>
<circle cx="720.0" cy="43.9" r="1.8" fill="#6495ED"/>
<circle cx="718.1" cy="41.9" r="1.8" fill="#6495ED"/>
<circle cx="715.0" cy="39.8" r="1.8" fill="#6495ED"/>
<circle cx="718.4" cy="39.0" r="1.8" fill="#6495ED"/>
<circle cx="714.7" cy="36.1" r="1.8" fill="#6495ED"/>
<circle cx="712.3" cy="34.7" r="1.8" fill="#6495ED"/>
<circle cx="715.8" cy="31.4" r="1.8" fill="#6495ED"/>
<rect x="689.9" y="81.0" width="49.4" height="35.400000000000006" fill="none" stroke="#6495ED" stroke-width="1.4"/>
<line x1="689.9" y1="101.0" x2="739.3000000000001" y2="101.0" stroke="#6495ED" stroke-width="2.6"/>
<line x1="714.6" y1="81.0" x2="714.6" y2="30.799999999999997" stroke="#6495ED" stroke-width="1.4"/>
<line x1="714.6" y1="116.4" x2="714.6" y2="151.9" stroke="#6495ED" stroke-width="1.4"/>
<line x1="701.5" y1="30.799999999999997" x2="727.7" y2="30.799999999999997" stroke="#6495ED" stroke-width="1.4"/>
<line x1="701.5" y1="151.9" x2="727.7" y2="151.9" stroke="#6495ED" stroke-width="1.4"/>
<circle cx="714.6" cy="25.4" r="1.8" fill="#6495ED"/>
<circle cx="804.9" cy="161.0" r="1.8" fill="#FFA500"/>
<circle cx="800.7" cy="160.3" r="1.8" fill="#FFA500"/>
<circle cx="797.1" cy="158.5" r="1.8" fill="#FFA500"/>
<circle cx="809.5" cy="154.9" r="1.8" fill="#FFA500"/>
<circle cx="787.5" cy="154.3" r="1.8" fill="#FFA500"/>
<circle cx="790.2" cy="153.1" r="1.8" fill="#FFA500"/>
<circle cx="791.6" cy="151.5" r="1.8" fill="#FFA500"/>
<circle cx="789.6" cy="150.6" r="1.8" fill="#FFA500"/>
<circle cx="803.0" cy="148.9" r="1.8" fill="#FFA500"/>
<circle cx="808.6" cy="148.4" r="1.8" fill="#FFA500"/>
<circle cx="816.4" cy="146.5" r="1.8" fill="#FFA500"/>
<circle cx="801.3" cy="146.0" r="1.8" fill="#FFA500"/>
<circle cx="802.8" cy="144.5" r="1.8" fill="#FFA500"/>
<circle cx="813.7" cy="143.1" r="1.8" fill="#FFA500"/>
<circle cx="784.2" cy="142.1" r="1.8" fill="#FFA500"/>
<circle cx="798.2" cy="140.8" r="1.8" fill="#FFA500"/>
<circle cx="796.3" cy="139.8" r="1.8" fill="#FFA500"/>
<circle cx="818.0" cy="139.3" r="1.8" fill="#FFA500"/>
<circle cx="814.0" cy="137.3" r="1.8" fill="#FFA500"/>
<circle cx="786.9" cy="136.4" r="1.8" fill="#FFA500"/>
<circle cx="792.1" cy="135.5" r="1.8" fill="#FFA500"/>
<circle cx="804.2" cy="134.5" r="1.8" fill="#FFA500"/>
<circle cx="806.1" cy="132.5" r="1.8" fill="#FFA500"/>
<circle cx="790.4" cy="131.4" r="1.8" fill="#FFA500"/>
<circle cx="801.9" cy="129.7" r="1.8" fill="#FFA500"/>
<circle cx="813.4" cy="128.5" r="1.8" fill="#FFA500"/>
<circle cx="795.3" cy="127.0" r="1.8" fill="#FFA500"/>
<circle cx="788.7" cy="126.0" r="1.8" fill="#FFA500"/>
<circle cx="794.2" cy="124.5" r="1.8" fill="#FFA500"/>
<circle cx="792.0" cy="123.3" r="1.8" fill="#FFA500"/>
<circle cx="806.8" cy="122.3" r="1.8" fill="#FFA500"/>
<circle cx="807.3" cy="120.2" r="1.8" fill="#FFA500"/>
<circle cx="797.2" cy="119.6" r="1.8" fill="#FFA500"/>
<circle cx="796.3" cy="117.7" r="1.8" fill="#FFA500"/>
<circle cx="817.5" cy="116.2" r="1.8" fill="#FFA500"/>
<circle cx="804.7" cy="115.2" r="1.8" fill="#FFA500"/>
<circle cx="794.7" cy="114.4" r="1.8" fill="#FFA500"/>
<circle cx="800.7" cy="112.3" r="1.8" fill="#FFA500"/>
<circle cx="812.9" cy="111.1" r="1.8" fill="#FFA500"/>
<circle cx="792.9" cy="110.3" r="1.8" fill="#FFA500"/>
<circle cx="805.9" cy="109.1" r="1.8" fill="#FFA500"/>
<circle cx="817.6" cy="107.2" r="1.8" fill="#FFA500"/>
<circle cx="794.0" cy="106.4" r="1.8" fill="#FFA500"/>
<circle cx="819.3" cy="104.6" r="1.8" fill="#FFA500"/>
<circle cx="781.5" cy="104.1" r="1.8" fill="#FFA500"/>
<circle cx="823.3" cy="103.4" r="1.8" fill="#FFA500"/>
<circle cx="796.2" cy="102.7" r="1.8" fill="#FFA500"/>
<circle cx="818.9" cy="101.9" r="1.8" fill="#FFA500"/>
<circle cx="814.9" cy="101.0" r="1.8" fill="#FFA500"/>
<circle cx="789.5" cy="100.7" r="1.8" fill="#FFA500"/>
<circle cx="824.1" cy="99.9" r="1.8" fill="#FFA500"/>
<circle cx="822.2" cy="99.1" r="1.8" fill="#FFA500"/>
<circle cx="778.5" cy="98.5" r="1.8" fill="#FFA500"/>
<circle cx="802.8" cy="97.6" r="1.8" fill="#FFA500"/>
<circle cx="809.0" cy="96.9" r="1.8" fill="#FFA500"/>
<circle cx="798.4" cy="96.3" r="1.8" fill="#FFA500"/>
<circle cx="780.7" cy="95.4" r="1.8" fill="#FFA500"/>
<circle cx="785.5" cy="94.8" r="1.8" fill="#FFA500"/>
<circle cx="820.4" cy="94.3" r="1.8" fill="#FFA500"/>
<circle cx="813.4" cy="93.1" r="1.8" fill="#FFA500"/>
<circle cx="807.2" cy="92.7" r="1.8" fill="#FFA500"/>
<circle cx="804.6" cy="92.0" r="1.8" fill="#FFA500"/>
<circle cx="786.6" cy="91.3" r="1.8" fill="#FFA500"/>
<circle cx="813.8" cy="90.3" r="1.8" fill="#FFA500"/>
<circle cx="782.9" cy="89.3" r="1.8" fill="#FFA500"/>
<circle cx="797.1" cy="88.3" r="1.8" fill="#FFA500"/>
<circle cx="809.2" cy="87.0" r="1.8" fill="#FFA500"/>
<circle cx="789.5" cy="85.9" r="1.8" fill="#FFA500"/>
<circle cx="799.3" cy="83.5" r="1.8" fill="#FFA500"/>
<circle cx="808.4" cy="82.8" r="1.8" fill="#FFA500"/>
<circle cx="801.6" cy="80.9" r="1.8" fill="#FFA500"/>
<circle cx="788.0" cy="79.7" r="1.8" fill="#FFA500"/>
<circle cx="809.3" cy="78.2" r="1.8" fill="#FFA500"/>
<circle cx="798.6" cy="76.7" r="1.8" fill="#FFA500"/>
<circle cx="794.1" cy="75.5" r="1.8" fill="#FFA500"/>
<circle cx="814.4" cy="74.2" r="1.8" fill="#FFA500"/>
<circle cx="800.0" cy="72.1" r="1.8" fill="#FFA500"/>
<circle cx="803.0" cy="70.3" r="1.8" fill="#FFA500"/>
<circle cx="789.8" cy="69.1" r="1.8" fill="#FFA500"/>
<circle cx="806.9" cy="68.1" r="1.8" fill="#FFA500"/>
<circle cx="803.9" cy="64.5" r="1.8" fill="#FFA500"/>
<circle cx="806.5" cy="62.7" r="1.8" fill="#FFA500"/>
<circle cx="798.7" cy="57.8" r="1.8" fill="#FFA500"/>
<circle cx="797.2" cy="52.8" r="1.8" fill="#FFA500"/>
<circle cx="796.1" cy="48.7" r="1.8" fill="#FFA500"/>
<circle cx="797.1" cy="46.3" r="1.8" fill="#FFA500"/>
<rect x="776.8499999999999" y="89.8" width="48.9" height="44.39999999999999" fill="none" stroke="#FFA500" stroke-width="1.4"/>
<line x1="776.8499999999999" y1="105.2" x2="825.75" y2="105.2" stroke="#FFA500" stroke-width="2.6"/>
<line x1="801.3" y1="89.8" x2="801.3" y2="44.3" stroke="#FFA500" stroke-width="1.4"/>
<line x1="801.3" y1="134.2" x2="801.3" y2="162.7" stroke="#FFA500" stroke-width="1.4"/>
<line x1="788.4" y1="44.3" x2="814.1999999999999" y2="44.3" stroke="#FFA500" stroke-width="1.4"/>
<line x1="788.4" y1="162.7" x2="814.1999999999999" y2="162.7" stroke="#FFA500" stroke-width="1.4"/>
<circle cx="801.3" cy="206.6" r="1.8" fill="#FFA500"/>
<text x="351.6" y="16.9" font-size="20" text-anchor="start" font-weight="bold" fill="#000">b</text>
<text x="352.8" y="265.2" font-size="20" text-anchor="start" font-weight="bold" fill="#000">c</text>
<text x="627.9" y="266.8" font-size="16.7" text-anchor="middle" fill="#000">CXCL11</text>
<text x="625.6" y="288.2" font-size="15" text-anchor="middle" fill="#000">P= 0.0042</text>
<line x1="400.9" y1="293.2" x2="854.5" y2="293.2" stroke="#000" stroke-width="1.6"/>
<rect x="399.9" y="299.7" width="217.60000000000002" height="23.600000000000023" fill="#D9D9D9" stroke="#333" stroke-width="1.1"/>
<text x="508.7" y="315.4" font-size="12.9" text-anchor="middle" fill="#1A1A1A">Control</text>
<line x1="399.9" y1="344.59999999999997" x2="617.5" y2="344.59999999999997" stroke="#EBEBEB" stroke-width="1.1"/>
<line x1="399.9" y1="401.4" x2="617.5" y2="401.4" stroke="#EBEBEB" stroke-width="1.1"/>
<line x1="399.9" y1="458.2" x2="617.5" y2="458.2" stroke="#EBEBEB" stroke-width="1.1"/>
<line x1="399.9" y1="515.0" x2="617.5" y2="515.0" stroke="#EBEBEB" stroke-width="1.1"/>
<line x1="409.5" y1="323.3" x2="409.5" y2="523.6" stroke="#EBEBEB" stroke-width="1.1"/>
<line x1="475.6" y1="323.3" x2="475.6" y2="523.6" stroke="#EBEBEB" stroke-width="1.1"/>
<line x1="541.7" y1="323.3" x2="541.7" y2="523.6" stroke="#EBEBEB" stroke-width="1.1"/>
<line x1="607.8" y1="323.3" x2="607.8" y2="523.6" stroke="#EBEBEB" stroke-width="1.1"/>
<path d="M422.7 479.5L442.6 495.0M422.7 487.5L442.6 452.6M475.6 453.4L508.6 515.2M508.6 515.2L528.5 466.4M528.5 466.4L554.9 480.3M455.8 462.1L475.6 453.4M475.6 453.4L502.0 442.8M475.6 453.4L495.4 458.9M442.6 451.8L455.8 462.1M475.6 355.5L515.3 346.1M515.3 346.1L561.5 348.1M515.3 355.7L561.5 376.6M568.1 371.2L601.2 380.3M416.1 345.9L435.9 347.4M422.7 359.2L449.2 347.9M429.3 348.1L442.6 350.2M422.7 356.9L475.6 374.5M416.1 341.0L449.2 359.9M429.3 383.0L449.2 354.0M409.5 367.4L435.9 374.9M416.1 372.1L449.2 383.0M429.3 352.5L475.6 355.5M422.7 332.2L455.8 376.6M416.1 360.6L435.9 367.0M416.1 367.5L435.9 350.8M422.7 363.8L442.6 390.6M409.5 378.5L455.8 358.6M422.7 366.1L462.4 352.3M416.1 365.2L435.9 380.0M416.1 356.0L469.0 354.0M409.5 415.1L462.4 386.3M429.3 403.5L455.8 384.2M422.7 375.3L442.6 408.2M416.1 374.4L435.9 364.5M422.7 409.8L449.2 369.1M422.7 391.4L435.9 359.9M416.1 362.9L462.4 390.9M416.1 381.3L442.6 354.0M416.1 369.8L435.9 422.4M422.7 384.5L449.2 385.0M416.1 388.2L442.6 352.3M422.7 370.7L475.6 400.6M422.7 361.5L469.0 379.5M429.3 408.1L442.6 394.3M416.1 353.1L469.0 398.9M422.7 368.4L462.4 408.1M422.7 373.0L455.8 407.0M416.1 379.0L442.6 356.1M416.1 392.8L455.8 356.5M422.7 382.2L449.2 380.9M422.7 393.7L435.9 382.0M422.7 335.4L435.9 361.9M429.3 412.7L442.6 367.0M429.3 373.7L442.6 403.4M416.1 395.1L469.0 380.9M416.1 385.9L449.2 367.8M429.3 365.1L442.6 392.5M416.1 358.3L469.0 394.7M429.3 360.3L449.2 429.1M416.1 397.4L449.2 372.8M416.1 376.7L469.0 418.6M422.7 400.6L449.2 423.7M416.1 390.5L442.6 422.8M422.7 398.3L442.6 401.0M422.7 416.7L455.8 409.4M429.3 417.5L442.6 449.7M422.7 389.1L435.9 417.7M416.1 402.0L462.4 406.4M422.7 386.8L435.9 403.9M429.3 391.0L442.6 385.5M422.7 405.2L462.4 397.2M416.1 436.9L449.2 408.5M409.5 390.5L449.2 411.3M422.7 377.6L442.6 405.8M422.7 407.5L455.8 446.7M422.7 402.9L435.9 421.1M416.1 404.3L469.0 411.9M416.1 422.8L475.6 408.1M429.3 401.9L435.9 413.1M422.7 379.9L442.6 377.5M429.3 418.6L462.4 436.3M416.1 419.4L449.2 395.1M429.3 399.3L469.0 427.4M429.3 422.4L462.4 412.7M422.7 414.4L475.6 453.4M422.7 396.0L469.0 421.1M416.1 406.6L469.0 425.4M422.7 423.6L462.4 432.9M422.7 421.3L462.4 422.6M429.3 456.8L462.4 434.6M416.1 383.6L455.8 411.9M429.3 429.5L469.0 452.2M422.7 459.3L469.0 439.2M429.3 425.8L475.6 426.2M429.3 427.9L442.6 430.0M429.3 388.0L442.6 424.9M422.7 419.0L469.0 448.8M416.1 451.3L442.6 434.6M416.1 399.7L469.0 450.9M422.7 437.1L455.8 448.4M422.7 412.1L469.0 424.5M422.7 428.0L455.8 462.1M416.1 408.9L455.8 425.8M429.3 415.0L455.8 414.8M422.7 479.5L462.4 448.9M416.1 424.5L469.0 429.5M422.7 446.3L469.0 430.8M422.7 434.2L462.4 429.4M422.7 448.8L469.0 422.4M422.7 487.5L442.6 452.6M449.2 347.9L508.6 376.3M435.9 359.9L515.3 349.5M449.2 359.9L508.6 394.2M449.2 366.1L521.9 384.1M455.8 371.6L515.3 399.2M462.4 378.8L515.3 385.0M435.9 367.0L508.6 385.5M469.0 398.9L488.8 393.0M449.2 369.1L561.5 383.3M455.8 358.6L508.6 395.9M449.2 383.0L554.9 397.5M475.6 355.5L554.9 409.3M475.6 374.5L554.9 389.7M455.8 379.2L554.9 411.3M435.9 403.9L508.6 400.4M469.0 379.5L548.3 409.3M442.6 377.5L502.0 371.9M435.9 380.0L561.5 421.7M449.2 385.0L502.0 394.7M449.2 411.3L521.9 403.1M462.4 380.0L561.5 425.0M455.8 404.8L508.6 415.1M455.8 376.6L508.6 425.9M462.4 390.9L561.5 444.3M442.6 367.0L528.5 429.6M455.8 390.1L515.3 434.2M455.8 411.9L561.5 429.7M435.9 417.7L502.0 403.1M455.8 414.8L521.9 386.3M469.0 418.6L515.3 442.3M449.2 408.5L521.9 421.0M475.6 426.2L515.3 435.9M469.0 425.4L508.6 428.4M442.6 423.3L561.5 410.1M449.2 434.2L521.9 418.5M455.8 409.4L515.3 403.8M442.6 410.5L515.3 424.9M449.2 416.9L515.3 428.4M455.8 407.0L521.9 400.9M469.0 429.5L508.6 435.6M435.9 422.4L535.1 426.9M449.2 414.1L528.5 437.6M469.0 452.2L515.3 423.5M435.9 421.1L508.6 412.6M469.0 422.4L561.5 439.3M442.6 449.7L502.0 422.7M449.2 429.1L508.6 454.7M469.0 439.2L528.5 424.4M469.0 447.1L561.5 440.9M462.4 422.6L508.6 419.8M455.8 427.4L515.3 440.1M462.4 434.6L508.6 438.9M442.6 424.9L535.1 429.2M515.3 349.5L607.8 417.7M548.3 409.3L594.6 392.5M515.3 385.0L601.2 415.8M502.0 403.1L568.1 386.7M508.6 438.9L574.8 394.5M561.5 444.3L601.2 410.7M535.1 429.2L607.8 388.0M521.9 386.3L607.8 403.4M508.6 395.9L601.2 385.0M508.6 400.4L601.2 422.8M521.9 403.1L607.8 430.8M561.5 421.7L607.8 405.4M561.5 410.1L607.8 434.2M535.1 426.9L568.1 398.4M508.6 412.6L607.8 400.9M561.5 383.3L568.1 381.3M554.9 397.5L601.2 444.0M515.3 440.1L607.8 393.4M554.9 409.3L581.4 433.7M561.5 429.7L607.8 444.0M515.3 424.9L594.6 432.6M508.6 419.8L581.4 457.7M515.3 435.9L607.8 447.3M561.5 440.9L601.2 454.7M508.6 454.7L607.8 461.9" stroke="#C8C8C8" stroke-opacity="0.66" stroke-width="1.15" fill="none"/><g fill="#000"><circle cx="409.5" cy="367.4" r="1.7"/><circle cx="409.5" cy="378.5" r="1.7"/><circle cx="409.5" cy="390.5" r="1.7"/><circle cx="409.5" cy="415.1" r="1.7"/><circle cx="416.1" cy="341.0" r="1.7"/><circle cx="416.1" cy="345.9" r="1.7"/><circle cx="416.1" cy="353.1" r="1.7"/><circle cx="416.1" cy="356.0" r="1.7"/><circle cx="416.1" cy="358.3" r="1.7"/><circle cx="416.1" cy="360.6" r="1.7"/><circle cx="416.1" cy="362.9" r="1.7"/><circle cx="416.1" cy="365.2" r="1.7"/><circle cx="416.1" cy="367.5" r="1.7"/><circle cx="416.1" cy="369.8" r="1.7"/><circle cx="416.1" cy="372.1" r="1.7"/><circle cx="416.1" cy="374.4" r="1.7"/><circle cx="416.1" cy="376.7" r="1.7"/><circle cx="416.1" cy="379.0" r="1.7"/><circle cx="416.1" cy="381.3" r="1.7"/><circle cx="416.1" cy="383.6" r="1.7"/><circle cx="416.1" cy="385.9" r="1.7"/><circle cx="416.1" cy="388.2" r="1.7"/><circle cx="416.1" cy="390.5" r="1.7"/><circle cx="416.1" cy="392.8" r="1.7"/><circle cx="416.1" cy="395.1" r="1.7"/><circle cx="416.1" cy="397.4" r="1.7"/><circle cx="416.1" cy="399.7" r="1.7"/><circle cx="416.1" cy="402.0" r="1.7"/><circle cx="416.1" cy="404.3" r="1.7"/><circle cx="416.1" cy="406.6" r="1.7"/><circle cx="416.1" cy="408.9" r="1.7"/><circle cx="416.1" cy="419.4" r="1.7"/><circle cx="416.1" cy="422.8" r="1.7"/><circle cx="416.1" cy="424.5" r="1.7"/><circle cx="416.1" cy="436.9" r="1.7"/><circle cx="416.1" cy="451.3" r="1.7"/><circle cx="422.7" cy="332.2" r="1.7"/><circle cx="422.7" cy="335.4" r="1.7"/><circle cx="422.7" cy="356.9" r="1.7"/><circle cx="422.7" cy="359.2" r="1.7"/><circle cx="422.7" cy="361.5" r="1.7"/><circle cx="422.7" cy="363.8" r="1.7"/><circle cx="422.7" cy="366.1" r="1.7"/><circle cx="422.7" cy="368.4" r="1.7"/><circle cx="422.7" cy="370.7" r="1.7"/><circle cx="422.7" cy="373.0" r="1.7"/><circle cx="422.7" cy="375.3" r="1.7"/><circle cx="422.7" cy="377.6" r="1.7"/><circle cx="422.7" cy="379.9" r="1.7"/><circle cx="422.7" cy="382.2" r="1.7"/><circle cx="422.7" cy="384.5" r="1.7"/><circle cx="422.7" cy="386.8" r="1.7"/><circle cx="422.7" cy="389.1" r="1.7"/><circle cx="422.7" cy="391.4" r="1.7"/><circle cx="422.7" cy="393.7" r="1.7"/><circle cx="422.7" cy="396.0" r="1.7"/><circle cx="422.7" cy="398.3" r="1.7"/><circle cx="422.7" cy="400.6" r="1.7"/><circle cx="422.7" cy="402.9" r="1.7"/><circle cx="422.7" cy="405.2" r="1.7"/><circle cx="422.7" cy="407.5" r="1.7"/><circle cx="422.7" cy="409.8" r="1.7"/><circle cx="422.7" cy="412.1" r="1.7"/><circle cx="422.7" cy="414.4" r="1.7"/><circle cx="422.7" cy="416.7" r="1.7"/><circle cx="422.7" cy="419.0" r="1.7"/><circle cx="422.7" cy="421.3" r="1.7"/><circle cx="422.7" cy="423.6" r="1.7"/><circle cx="422.7" cy="428.0" r="1.7"/><circle cx="422.7" cy="434.2" r="1.7"/><circle cx="422.7" cy="437.1" r="1.7"/><circle cx="422.7" cy="446.3" r="1.7"/><circle cx="422.7" cy="448.8" r="1.7"/><circle cx="422.7" cy="459.3" r="1.7"/><circle cx="422.7" cy="479.5" r="1.7"/><circle cx="422.7" cy="487.5" r="1.7"/><circle cx="429.3" cy="348.1" r="1.7"/><circle cx="429.3" cy="352.5" r="1.7"/><circle cx="429.3" cy="360.3" r="1.7"/><circle cx="429.3" cy="365.1" r="1.7"/><circle cx="429.3" cy="373.7" r="1.7"/><circle cx="429.3" cy="383.0" r="1.7"/><circle cx="429.3" cy="388.0" r="1.7"/><circle cx="429.3" cy="391.0" r="1.7"/><circle cx="429.3" cy="399.3" r="1.7"/><circle cx="429.3" cy="401.9" r="1.7"/><circle cx="429.3" cy="403.5" r="1.7"/><circle cx="429.3" cy="408.1" r="1.7"/><circle cx="429.3" cy="412.7" r="1.7"/><circle cx="429.3" cy="415.0" r="1.7"/><circle cx="429.3" cy="417.5" r="1.7"/><circle cx="429.3" cy="418.6" r="1.7"/><circle cx="429.3" cy="422.4" r="1.7"/><circle cx="429.3" cy="425.8" r="1.7"/><circle cx="429.3" cy="427.9" r="1.7"/><circle cx="429.3" cy="429.5" r="1.7"/><circle cx="429.3" cy="456.8" r="1.7"/><circle cx="435.9" cy="347.4" r="1.7"/><circle cx="435.9" cy="350.8" r="1.7"/><circle cx="435.9" cy="359.9" r="1.7"/><circle cx="435.9" cy="361.9" r="1.7"/><circle cx="435.9" cy="364.5" r="1.7"/><circle cx="435.9" cy="367.0" r="1.7"/><circle cx="435.9" cy="372.4" r="1.7"/><circle cx="435.9" cy="374.9" r="1.7"/><circle cx="435.9" cy="377.5" r="1.7"/><circle cx="435.9" cy="380.0" r="1.7"/><circle cx="435.9" cy="382.0" r="1.7"/><circle cx="435.9" cy="388.4" r="1.7"/><circle cx="435.9" cy="391.8" r="1.7"/><circle cx="435.9" cy="399.3" r="1.7"/><circle cx="435.9" cy="403.9" r="1.7"/><circle cx="435.9" cy="413.1" r="1.7"/><circle cx="435.9" cy="417.7" r="1.7"/><circle cx="435.9" cy="421.1" r="1.7"/><circle cx="435.9" cy="422.4" r="1.7"/><circle cx="435.9" cy="436.7" r="1.7"/><circle cx="442.6" cy="350.2" r="1.7"/><circle cx="442.6" cy="352.3" r="1.7"/><circle cx="442.6" cy="354.0" r="1.7"/><circle cx="442.6" cy="356.1" r="1.7"/><circle cx="442.6" cy="357.8" r="1.7"/><circle cx="442.6" cy="363.0" r="1.7"/><circle cx="442.6" cy="367.0" r="1.7"/><circle cx="442.6" cy="377.5" r="1.7"/><circle cx="442.6" cy="379.2" r="1.7"/><circle cx="442.6" cy="385.5" r="1.7"/><circle cx="442.6" cy="388.8" r="1.7"/><circle cx="442.6" cy="390.6" r="1.7"/><circle cx="442.6" cy="392.5" r="1.7"/><circle cx="442.6" cy="394.3" r="1.7"/><circle cx="442.6" cy="401.0" r="1.7"/><circle cx="442.6" cy="403.4" r="1.7"/><circle cx="442.6" cy="405.8" r="1.7"/><circle cx="442.6" cy="408.2" r="1.7"/><circle cx="442.6" cy="410.5" r="1.7"/><circle cx="442.6" cy="412.7" r="1.7"/><circle cx="442.6" cy="416.9" r="1.7"/><circle cx="442.6" cy="422.8" r="1.7"/><circle cx="442.6" cy="423.3" r="1.7"/><circle cx="442.6" cy="424.9" r="1.7"/><circle cx="442.6" cy="430.0" r="1.7"/><circle cx="442.6" cy="434.6" r="1.7"/><circle cx="442.6" cy="449.7" r="1.7"/><circle cx="442.6" cy="451.8" r="1.7"/><circle cx="442.6" cy="452.6" r="1.7"/><circle cx="442.6" cy="495.0" r="1.7"/><circle cx="449.2" cy="347.9" r="1.7"/><circle cx="449.2" cy="354.0" r="1.7"/><circle cx="449.2" cy="359.9" r="1.7"/><circle cx="449.2" cy="366.1" r="1.7"/><circle cx="449.2" cy="367.8" r="1.7"/><circle cx="449.2" cy="369.1" r="1.7"/><circle cx="449.2" cy="372.8" r="1.7"/><circle cx="449.2" cy="380.9" r="1.7"/><circle cx="449.2" cy="383.0" r="1.7"/><circle cx="449.2" cy="385.0" r="1.7"/><circle cx="449.2" cy="387.5" r="1.7"/><circle cx="449.2" cy="390.0" r="1.7"/><circle cx="449.2" cy="392.5" r="1.7"/><circle cx="449.2" cy="395.1" r="1.7"/><circle cx="449.2" cy="408.5" r="1.7"/><circle cx="449.2" cy="411.3" r="1.7"/><circle cx="449.2" cy="414.1" r="1.7"/><circle cx="449.2" cy="416.9" r="1.7"/><circle cx="449.2" cy="422.8" r="1.7"/><circle cx="449.2" cy="423.7" r="1.7"/><circle cx="449.2" cy="429.1" r="1.7"/><circle cx="449.2" cy="434.2" r="1.7"/><circle cx="455.8" cy="356.5" r="1.7"/><circle cx="455.8" cy="358.6" r="1.7"/><circle cx="455.8" cy="371.6" r="1.7"/><circle cx="455.8" cy="376.6" r="1.7"/><circle cx="455.8" cy="379.2" r="1.7"/><circle cx="455.8" cy="381.7" r="1.7"/><circle cx="455.8" cy="384.2" r="1.7"/><circle cx="455.8" cy="390.1" r="1.7"/><circle cx="455.8" cy="404.8" r="1.7"/><circle cx="455.8" cy="407.0" r="1.7"/><circle cx="455.8" cy="409.4" r="1.7"/><circle cx="455.8" cy="411.9" r="1.7"/><circle cx="455.8" cy="414.8" r="1.7"/><circle cx="455.8" cy="425.8" r="1.7"/><circle cx="455.8" cy="427.4" r="1.7"/><circle cx="455.8" cy="433.3" r="1.7"/><circle cx="455.8" cy="446.7" r="1.7"/><circle cx="455.8" cy="448.4" r="1.7"/><circle cx="455.8" cy="462.1" r="1.7"/><circle cx="462.4" cy="352.3" r="1.7"/><circle cx="462.4" cy="354.4" r="1.7"/><circle cx="462.4" cy="372.0" r="1.7"/><circle cx="462.4" cy="378.8" r="1.7"/><circle cx="462.4" cy="380.0" r="1.7"/><circle cx="462.4" cy="386.3" r="1.7"/><circle cx="462.4" cy="390.9" r="1.7"/><circle cx="462.4" cy="394.7" r="1.7"/><circle cx="462.4" cy="397.2" r="1.7"/><circle cx="462.4" cy="406.4" r="1.7"/><circle cx="462.4" cy="408.1" r="1.7"/><circle cx="462.4" cy="412.7" r="1.7"/><circle cx="462.4" cy="422.6" r="1.7"/><circle cx="462.4" cy="429.4" r="1.7"/><circle cx="462.4" cy="432.9" r="1.7"/><circle cx="462.4" cy="434.6" r="1.7"/><circle cx="462.4" cy="436.3" r="1.7"/><circle cx="462.4" cy="448.9" r="1.7"/><circle cx="469.0" cy="352.3" r="1.7"/><circle cx="469.0" cy="354.0" r="1.7"/><circle cx="469.0" cy="379.5" r="1.7"/><circle cx="469.0" cy="380.9" r="1.7"/><circle cx="469.0" cy="394.7" r="1.7"/><circle cx="469.0" cy="396.8" r="1.7"/><circle cx="469.0" cy="398.9" r="1.7"/><circle cx="469.0" cy="411.9" r="1.7"/><circle cx="469.0" cy="416.1" r="1.7"/><circle cx="469.0" cy="418.6" r="1.7"/><circle cx="469.0" cy="421.1" r="1.7"/><circle cx="469.0" cy="422.4" r="1.7"/><circle cx="469.0" cy="424.5" r="1.7"/><circle cx="469.0" cy="425.4" r="1.7"/><circle cx="469.0" cy="427.4" r="1.7"/><circle cx="469.0" cy="429.5" r="1.7"/><circle cx="469.0" cy="430.8" r="1.7"/><circle cx="469.0" cy="437.5" r="1.7"/><circle cx="469.0" cy="439.2" r="1.7"/><circle cx="469.0" cy="447.1" r="1.7"/><circle cx="469.0" cy="448.8" r="1.7"/><circle cx="469.0" cy="450.9" r="1.7"/><circle cx="469.0" cy="452.2" r="1.7"/><circle cx="475.6" cy="355.5" r="1.7"/><circle cx="475.6" cy="374.5" r="1.7"/><circle cx="475.6" cy="400.6" r="1.7"/><circle cx="475.6" cy="408.1" r="1.7"/><circle cx="475.6" cy="419.4" r="1.7"/><circle cx="475.6" cy="426.2" r="1.7"/><circle cx="475.6" cy="453.4" r="1.7"/><circle cx="488.8" cy="393.0" r="1.7"/><circle cx="495.4" cy="458.9" r="1.7"/><circle cx="502.0" cy="371.9" r="1.7"/><circle cx="502.0" cy="394.7" r="1.7"/><circle cx="502.0" cy="403.1" r="1.7"/><circle cx="502.0" cy="422.7" r="1.7"/><circle cx="502.0" cy="442.8" r="1.7"/><circle cx="508.6" cy="376.3" r="1.7"/><circle cx="508.6" cy="385.5" r="1.7"/><circle cx="508.6" cy="394.2" r="1.7"/><circle cx="508.6" cy="395.9" r="1.7"/><circle cx="508.6" cy="400.4" r="1.7"/><circle cx="508.6" cy="412.6" r="1.7"/><circle cx="508.6" cy="415.1" r="1.7"/><circle cx="508.6" cy="419.8" r="1.7"/><circle cx="508.6" cy="425.9" r="1.7"/><circle cx="508.6" cy="428.4" r="1.7"/><circle cx="508.6" cy="435.6" r="1.7"/><circle cx="508.6" cy="438.9" r="1.7"/><circle cx="508.6" cy="454.7" r="1.7"/><circle cx="508.6" cy="515.2" r="1.7"/><circle cx="515.3" cy="346.1" r="1.7"/><circle cx="515.3" cy="349.5" r="1.7"/><circle cx="515.3" cy="355.7" r="1.7"/><circle cx="515.3" cy="385.0" r="1.7"/><circle cx="515.3" cy="399.2" r="1.7"/><circle cx="515.3" cy="403.8" r="1.7"/><circle cx="515.3" cy="423.5" r="1.7"/><circle cx="515.3" cy="424.9" r="1.7"/><circle cx="515.3" cy="428.4" r="1.7"/><circle cx="515.3" cy="434.2" r="1.7"/><circle cx="515.3" cy="435.9" r="1.7"/><circle cx="515.3" cy="440.1" r="1.7"/><circle cx="515.3" cy="442.3" r="1.7"/><circle cx="521.9" cy="384.1" r="1.7"/><circle cx="521.9" cy="386.3" r="1.7"/><circle cx="521.9" cy="400.9" r="1.7"/><circle cx="521.9" cy="403.1" r="1.7"/><circle cx="521.9" cy="418.5" r="1.7"/><circle cx="521.9" cy="421.0" r="1.7"/><circle cx="528.5" cy="424.4" r="1.7"/><circle cx="528.5" cy="429.6" r="1.7"/><circle cx="528.5" cy="437.6" r="1.7"/><circle cx="528.5" cy="466.4" r="1.7"/><circle cx="535.1" cy="426.9" r="1.7"/><circle cx="535.1" cy="429.2" r="1.7"/><circle cx="548.3" cy="409.3" r="1.7"/><circle cx="554.9" cy="389.7" r="1.7"/><circle cx="554.9" cy="397.5" r="1.7"/><circle cx="554.9" cy="409.3" r="1.7"/><circle cx="554.9" cy="411.3" r="1.7"/><circle cx="554.9" cy="480.3" r="1.7"/><circle cx="561.5" cy="348.1" r="1.7"/><circle cx="561.5" cy="376.6" r="1.7"/><circle cx="561.5" cy="383.3" r="1.7"/><circle cx="561.5" cy="410.1" r="1.7"/><circle cx="561.5" cy="421.7" r="1.7"/><circle cx="561.5" cy="425.0" r="1.7"/><circle cx="561.5" cy="429.7" r="1.7"/><circle cx="561.5" cy="439.3" r="1.7"/><circle cx="561.5" cy="440.9" r="1.7"/><circle cx="561.5" cy="444.3" r="1.7"/><circle cx="568.1" cy="371.2" r="1.7"/><circle cx="568.1" cy="381.3" r="1.7"/><circle cx="568.1" cy="386.7" r="1.7"/><circle cx="568.1" cy="398.4" r="1.7"/><circle cx="574.8" cy="394.5" r="1.7"/><circle cx="581.4" cy="433.7" r="1.7"/><circle cx="581.4" cy="457.7" r="1.7"/><circle cx="594.6" cy="392.5" r="1.7"/><circle cx="594.6" cy="432.6" r="1.7"/><circle cx="601.2" cy="380.3" r="1.7"/><circle cx="601.2" cy="385.0" r="1.7"/><circle cx="601.2" cy="410.7" r="1.7"/><circle cx="601.2" cy="415.8" r="1.7"/><circle cx="601.2" cy="422.8" r="1.7"/><circle cx="601.2" cy="444.0" r="1.7"/><circle cx="601.2" cy="454.7" r="1.7"/><circle cx="607.8" cy="388.0" r="1.7"/><circle cx="607.8" cy="393.4" r="1.7"/><circle cx="607.8" cy="400.9" r="1.7"/><circle cx="607.8" cy="403.4" r="1.7"/><circle cx="607.8" cy="405.4" r="1.7"/><circle cx="607.8" cy="417.7" r="1.7"/><circle cx="607.8" cy="430.8" r="1.7"/><circle cx="607.8" cy="434.2" r="1.7"/><circle cx="607.8" cy="444.0" r="1.7"/><circle cx="607.8" cy="447.3" r="1.7"/><circle cx="607.8" cy="461.9" r="1.7"/></g><polygon points="409.5,388.1 416.1,389.5 422.7,390.9 429.3,392.2 436.0,393.5 442.6,394.8 449.2,396.1 455.8,397.4 462.4,398.6 469.0,399.7 475.6,400.8 482.2,401.9 488.9,402.9 495.5,403.9 502.1,404.8 508.7,405.8 515.3,406.7 521.9,407.5 528.5,408.4 535.2,409.3 541.8,410.1 548.4,411.0 555.0,411.8 561.6,412.6 568.2,413.4 574.8,414.3 581.4,415.1 588.1,415.9 594.7,416.7 601.3,417.5 607.9,418.3 607.9,433.3 601.3,431.9 594.7,430.4 588.1,429.0 581.4,427.5 574.8,426.1 568.2,424.7 561.6,423.3 555.0,421.8 548.4,420.4 541.8,419.0 535.2,417.6 528.5,416.2 521.9,414.8 515.3,413.5 508.7,412.1 502.1,410.8 495.5,409.5 488.9,408.3 482.2,407.0 475.6,405.8 469.0,404.7 462.4,403.6 455.8,402.6 449.2,401.6 442.6,400.6 436.0,399.6 429.3,398.7 422.7,397.8 416.1,397.0 409.5,396.1" fill="#A9C4F5" fill-opacity="0.78"/><line x1="409.5" y1="392.1" x2="607.9" y2="425.8" stroke="#6495ED" stroke-width="5.4"/>
<rect x="399.9" y="323.3" width="217.60000000000002" height="200.3" fill="none" stroke="#333" stroke-width="1.1"/>
<line x1="409.5" y1="523.6" x2="409.5" y2="527.9" stroke="#333" stroke-width="1.1"/>
<text x="409.5" y="543.6" font-size="16.6" text-anchor="middle" fill="#000">0</text>
<line x1="475.6" y1="523.6" x2="475.6" y2="527.9" stroke="#333" stroke-width="1.1"/>
<text x="475.6" y="543.6" font-size="16.6" text-anchor="middle" fill="#000">10</text>
<line x1="541.7" y1="523.6" x2="541.7" y2="527.9" stroke="#333" stroke-width="1.1"/>
<text x="541.7" y="543.6" font-size="16.6" text-anchor="middle" fill="#000">20</text>
<line x1="607.8" y1="523.6" x2="607.8" y2="527.9" stroke="#333" stroke-width="1.1"/>
<text x="607.8" y="543.6" font-size="16.6" text-anchor="middle" fill="#000">30</text>
<rect x="637.5" y="299.7" width="217.70000000000005" height="23.600000000000023" fill="#D9D9D9" stroke="#333" stroke-width="1.1"/>
<text x="746.35" y="315.4" font-size="12.9" text-anchor="middle" fill="#1A1A1A">Transplant</text>
<line x1="637.5" y1="344.59999999999997" x2="855.2" y2="344.59999999999997" stroke="#EBEBEB" stroke-width="1.1"/>
<line x1="637.5" y1="401.4" x2="855.2" y2="401.4" stroke="#EBEBEB" stroke-width="1.1"/>
<line x1="637.5" y1="458.2" x2="855.2" y2="458.2" stroke="#EBEBEB" stroke-width="1.1"/>
<line x1="637.5" y1="515.0" x2="855.2" y2="515.0" stroke="#EBEBEB" stroke-width="1.1"/>
<line x1="647.3" y1="323.3" x2="647.3" y2="523.6" stroke="#EBEBEB" stroke-width="1.1"/>
<line x1="713.4" y1="323.3" x2="713.4" y2="523.6" stroke="#EBEBEB" stroke-width="1.1"/>
<line x1="779.5" y1="323.3" x2="779.5" y2="523.6" stroke="#EBEBEB" stroke-width="1.1"/>
<line x1="845.5999999999999" y1="323.3" x2="845.5999999999999" y2="523.6" stroke="#EBEBEB" stroke-width="1.1"/>
<path d="M680.3 355.6L706.8 345.4M706.8 345.4L753.1 346.5M700.2 355.9L746.4 362.2M753.1 369.3L805.9 340.4M805.9 340.4L845.6 372.2M739.8 368.2L786.1 385.0M786.1 385.0L832.4 363.5M746.4 378.3L786.1 373.4M720.0 418.5L766.3 393.3M693.6 452.5L733.2 456.7M733.2 456.7L786.1 434.0M786.1 434.0L825.8 462.3M786.1 425.4L812.5 425.4M713.4 446.6L759.7 440.2M799.3 400.4L845.6 415.4M805.9 406.0L845.6 422.7M739.8 433.2L786.1 425.4M746.4 395.7L805.9 406.0M739.8 415.8L799.3 420.3M753.1 401.0L799.3 400.4M660.5 360.6L706.8 345.4M653.9 375.6L687.0 348.6M667.1 359.0L693.6 391.8M653.9 380.2L693.6 362.5M653.9 354.8L673.7 355.2M660.5 394.1L673.7 359.4M653.9 394.0L700.2 375.6M660.5 419.0L687.0 357.3M660.5 378.4L713.4 360.4M660.5 359.4L706.8 380.7M660.5 335.5L680.3 354.3M660.5 382.6L680.3 391.8M653.9 391.7L687.0 409.0M653.9 373.0L673.7 372.2M660.5 353.5L700.2 405.0M647.3 417.4L713.4 382.7M647.3 367.3L700.2 424.8M660.5 387.2L687.0 394.3M660.5 366.7L687.0 379.0M653.9 384.8L700.2 397.7M660.5 375.4L706.8 430.2M653.9 377.9L706.8 401.4M653.9 389.4L680.3 422.2M660.5 414.4L680.3 385.5M660.5 409.0L680.3 426.0M653.9 396.3L713.4 386.6M653.9 356.9L700.2 378.3M667.1 396.0L680.3 413.6M660.5 405.2L680.3 372.8M660.5 389.5L693.6 396.4M653.9 415.7L673.7 411.1M647.3 418.6L700.2 393.7M667.1 379.6L693.6 389.7M667.1 383.4L680.3 411.1M653.9 439.8L693.6 394.3M653.9 382.5L680.3 395.1M667.1 421.8L693.6 440.2M660.5 384.9L706.8 405.7M660.5 428.9L680.3 355.6M653.9 405.2L680.3 456.7M653.9 411.9L700.2 435.1M660.5 430.4L693.6 404.0M667.1 406.5L687.0 426.8M660.5 398.7L687.0 429.3M660.5 391.8L706.8 432.4M660.5 432.0L680.3 369.8M653.9 387.1L673.7 396.8M653.9 443.6L706.8 425.5M660.5 423.6L693.6 444.4M660.5 433.5L687.0 438.5M667.1 428.1L700.2 426.1M653.9 418.8L680.3 439.4M653.9 408.5L713.4 410.5M660.5 396.4L680.3 438.1M660.5 416.7L713.4 446.6M660.5 421.3L693.6 433.9M667.1 435.6L693.6 470.8M653.9 441.5L687.0 445.2M660.5 450.3L680.3 460.9M667.1 438.1L687.0 448.6M680.3 369.8L739.8 380.7M680.3 355.6L746.4 398.4M693.6 404.0L746.4 428.5M700.2 375.6L772.9 395.3M680.3 406.0L753.1 428.1M680.3 385.5L792.7 414.7M687.0 394.3L746.4 431.9M700.2 424.8L739.8 421.4M700.2 405.0L753.1 430.6M700.2 435.1L779.5 411.9M706.8 425.5L739.8 448.9M680.3 438.1L759.7 431.2M772.9 395.3L805.9 410.7M753.1 428.1L839.0 406.0" stroke="#C8C8C8" stroke-opacity="0.66" stroke-width="1.15" fill="none"/><g fill="#000"><circle cx="647.3" cy="367.3" r="1.7"/><circle cx="647.3" cy="417.4" r="1.7"/><circle cx="647.3" cy="418.6" r="1.7"/><circle cx="653.9" cy="354.8" r="1.7"/><circle cx="653.9" cy="356.9" r="1.7"/><circle cx="653.9" cy="373.0" r="1.7"/><circle cx="653.9" cy="375.6" r="1.7"/><circle cx="653.9" cy="377.9" r="1.7"/><circle cx="653.9" cy="380.2" r="1.7"/><circle cx="653.9" cy="382.5" r="1.7"/><circle cx="653.9" cy="384.8" r="1.7"/><circle cx="653.9" cy="387.1" r="1.7"/><circle cx="653.9" cy="389.4" r="1.7"/><circle cx="653.9" cy="391.7" r="1.7"/><circle cx="653.9" cy="394.0" r="1.7"/><circle cx="653.9" cy="396.3" r="1.7"/><circle cx="653.9" cy="405.2" r="1.7"/><circle cx="653.9" cy="408.5" r="1.7"/><circle cx="653.9" cy="411.9" r="1.7"/><circle cx="653.9" cy="415.7" r="1.7"/><circle cx="653.9" cy="418.8" r="1.7"/><circle cx="653.9" cy="439.8" r="1.7"/><circle cx="653.9" cy="441.5" r="1.7"/><circle cx="653.9" cy="443.6" r="1.7"/><circle cx="660.5" cy="335.5" r="1.7"/><circle cx="660.5" cy="353.5" r="1.7"/><circle cx="660.5" cy="359.4" r="1.7"/><circle cx="660.5" cy="360.6" r="1.7"/><circle cx="660.5" cy="366.7" r="1.7"/><circle cx="660.5" cy="375.4" r="1.7"/><circle cx="660.5" cy="378.4" r="1.7"/><circle cx="660.5" cy="382.6" r="1.7"/><circle cx="660.5" cy="384.9" r="1.7"/><circle cx="660.5" cy="387.2" r="1.7"/><circle cx="660.5" cy="389.5" r="1.7"/><circle cx="660.5" cy="391.8" r="1.7"/><circle cx="660.5" cy="394.1" r="1.7"/><circle cx="660.5" cy="396.4" r="1.7"/><circle cx="660.5" cy="398.7" r="1.7"/><circle cx="660.5" cy="405.2" r="1.7"/><circle cx="660.5" cy="409.0" r="1.7"/><circle cx="660.5" cy="414.4" r="1.7"/><circle cx="660.5" cy="416.7" r="1.7"/><circle cx="660.5" cy="419.0" r="1.7"/><circle cx="660.5" cy="421.3" r="1.7"/><circle cx="660.5" cy="423.6" r="1.7"/><circle cx="660.5" cy="428.9" r="1.7"/><circle cx="660.5" cy="430.4" r="1.7"/><circle cx="660.5" cy="432.0" r="1.7"/><circle cx="660.5" cy="433.5" r="1.7"/><circle cx="660.5" cy="450.3" r="1.7"/><circle cx="667.1" cy="359.0" r="1.7"/><circle cx="667.1" cy="379.6" r="1.7"/><circle cx="667.1" cy="383.4" r="1.7"/><circle cx="667.1" cy="396.0" r="1.7"/><circle cx="667.1" cy="406.5" r="1.7"/><circle cx="667.1" cy="421.8" r="1.7"/><circle cx="667.1" cy="428.1" r="1.7"/><circle cx="667.1" cy="435.6" r="1.7"/><circle cx="667.1" cy="438.1" r="1.7"/><circle cx="673.7" cy="355.2" r="1.7"/><circle cx="673.7" cy="359.4" r="1.7"/><circle cx="673.7" cy="372.2" r="1.7"/><circle cx="673.7" cy="382.6" r="1.7"/><circle cx="673.7" cy="394.3" r="1.7"/><circle cx="673.7" cy="396.8" r="1.7"/><circle cx="673.7" cy="411.1" r="1.7"/><circle cx="673.7" cy="440.2" r="1.7"/><circle cx="673.7" cy="455.7" r="1.7"/><circle cx="680.3" cy="354.3" r="1.7"/><circle cx="680.3" cy="355.6" r="1.7"/><circle cx="680.3" cy="369.8" r="1.7"/><circle cx="680.3" cy="372.8" r="1.7"/><circle cx="680.3" cy="378.4" r="1.7"/><circle cx="680.3" cy="385.5" r="1.7"/><circle cx="680.3" cy="391.8" r="1.7"/><circle cx="680.3" cy="395.1" r="1.7"/><circle cx="680.3" cy="398.5" r="1.7"/><circle cx="680.3" cy="406.0" r="1.7"/><circle cx="680.3" cy="411.1" r="1.7"/><circle cx="680.3" cy="413.6" r="1.7"/><circle cx="680.3" cy="422.2" r="1.7"/><circle cx="680.3" cy="426.0" r="1.7"/><circle cx="680.3" cy="438.1" r="1.7"/><circle cx="680.3" cy="439.4" r="1.7"/><circle cx="680.3" cy="443.1" r="1.7"/><circle cx="680.3" cy="456.7" r="1.7"/><circle cx="680.3" cy="460.9" r="1.7"/><circle cx="687.0" cy="348.6" r="1.7"/><circle cx="687.0" cy="357.3" r="1.7"/><circle cx="687.0" cy="379.0" r="1.7"/><circle cx="687.0" cy="394.3" r="1.7"/><circle cx="687.0" cy="409.0" r="1.7"/><circle cx="687.0" cy="426.8" r="1.7"/><circle cx="687.0" cy="429.3" r="1.7"/><circle cx="687.0" cy="438.5" r="1.7"/><circle cx="687.0" cy="445.2" r="1.7"/><circle cx="687.0" cy="448.6" r="1.7"/><circle cx="693.6" cy="362.5" r="1.7"/><circle cx="693.6" cy="389.7" r="1.7"/><circle cx="693.6" cy="391.8" r="1.7"/><circle cx="693.6" cy="394.3" r="1.7"/><circle cx="693.6" cy="396.4" r="1.7"/><circle cx="693.6" cy="404.0" r="1.7"/><circle cx="693.6" cy="433.9" r="1.7"/><circle cx="693.6" cy="440.2" r="1.7"/><circle cx="693.6" cy="444.4" r="1.7"/><circle cx="693.6" cy="452.5" r="1.7"/><circle cx="693.6" cy="470.8" r="1.7"/><circle cx="700.2" cy="355.9" r="1.7"/><circle cx="700.2" cy="375.6" r="1.7"/><circle cx="700.2" cy="378.3" r="1.7"/><circle cx="700.2" cy="393.7" r="1.7"/><circle cx="700.2" cy="397.7" r="1.7"/><circle cx="700.2" cy="405.0" r="1.7"/><circle cx="700.2" cy="424.8" r="1.7"/><circle cx="700.2" cy="426.1" r="1.7"/><circle cx="700.2" cy="435.1" r="1.7"/><circle cx="706.8" cy="345.4" r="1.7"/><circle cx="706.8" cy="380.7" r="1.7"/><circle cx="706.8" cy="401.4" r="1.7"/><circle cx="706.8" cy="405.7" r="1.7"/><circle cx="706.8" cy="425.5" r="1.7"/><circle cx="706.8" cy="430.2" r="1.7"/><circle cx="706.8" cy="432.4" r="1.7"/><circle cx="713.4" cy="360.4" r="1.7"/><circle cx="713.4" cy="382.7" r="1.7"/><circle cx="713.4" cy="386.6" r="1.7"/><circle cx="713.4" cy="410.5" r="1.7"/><circle cx="713.4" cy="446.6" r="1.7"/><circle cx="720.0" cy="418.5" r="1.7"/><circle cx="733.2" cy="456.7" r="1.7"/><circle cx="739.8" cy="368.2" r="1.7"/><circle cx="739.8" cy="380.7" r="1.7"/><circle cx="739.8" cy="415.8" r="1.7"/><circle cx="739.8" cy="421.4" r="1.7"/><circle cx="739.8" cy="433.2" r="1.7"/><circle cx="739.8" cy="448.9" r="1.7"/><circle cx="746.4" cy="362.2" r="1.7"/><circle cx="746.4" cy="378.3" r="1.7"/><circle cx="746.4" cy="395.7" r="1.7"/><circle cx="746.4" cy="398.4" r="1.7"/><circle cx="746.4" cy="428.5" r="1.7"/><circle cx="746.4" cy="431.9" r="1.7"/><circle cx="753.1" cy="346.5" r="1.7"/><circle cx="753.1" cy="369.3" r="1.7"/><circle cx="753.1" cy="401.0" r="1.7"/><circle cx="753.1" cy="428.1" r="1.7"/><circle cx="753.1" cy="430.6" r="1.7"/><circle cx="759.7" cy="431.2" r="1.7"/><circle cx="759.7" cy="440.2" r="1.7"/><circle cx="766.3" cy="393.3" r="1.7"/><circle cx="772.9" cy="395.3" r="1.7"/><circle cx="779.5" cy="411.9" r="1.7"/><circle cx="786.1" cy="373.4" r="1.7"/><circle cx="786.1" cy="385.0" r="1.7"/><circle cx="786.1" cy="425.4" r="1.7"/><circle cx="786.1" cy="434.0" r="1.7"/><circle cx="792.7" cy="414.7" r="1.7"/><circle cx="799.3" cy="400.4" r="1.7"/><circle cx="799.3" cy="420.3" r="1.7"/><circle cx="805.9" cy="340.4" r="1.7"/><circle cx="805.9" cy="406.0" r="1.7"/><circle cx="805.9" cy="410.7" r="1.7"/><circle cx="812.5" cy="425.4" r="1.7"/><circle cx="825.8" cy="462.3" r="1.7"/><circle cx="832.4" cy="363.5" r="1.7"/><circle cx="839.0" cy="406.0" r="1.7"/><circle cx="845.6" cy="372.2" r="1.7"/><circle cx="845.6" cy="415.4" r="1.7"/><circle cx="845.6" cy="422.7" r="1.7"/></g><polygon points="647.3,397.1 653.9,397.7 660.5,398.2 667.1,398.7 673.7,399.1 680.3,399.4 687.0,399.6 693.6,399.7 700.2,399.7 706.8,399.7 713.4,399.6 720.0,399.4 726.6,399.3 733.2,399.1 739.8,398.8 746.5,398.6 753.1,398.3 759.7,398.0 766.3,397.7 772.9,397.4 779.5,397.1 786.1,396.7 792.7,396.4 799.3,396.1 805.9,395.7 812.5,395.4 819.2,395.0 825.8,394.7 832.4,394.3 839.0,394.0 845.6,393.6 845.6,416.2 839.0,415.7 832.4,415.2 825.8,414.7 819.2,414.2 812.5,413.7 805.9,413.2 799.3,412.7 792.7,412.2 786.1,411.7 779.5,411.3 772.9,410.8 766.3,410.3 759.7,409.9 753.1,409.5 746.5,409.0 739.8,408.6 733.2,408.3 726.6,407.9 720.0,407.6 713.4,407.3 706.8,407.0 700.2,406.9 693.6,406.7 687.0,406.7 680.3,406.7 673.7,406.9 667.1,407.1 660.5,407.5 653.9,407.9 647.3,408.3" fill="#FFD386" fill-opacity="0.78"/><line x1="647.3" y1="402.7" x2="845.6" y2="404.9" stroke="#FFA500" stroke-width="5.4"/>
<rect x="637.5" y="323.3" width="217.70000000000005" height="200.3" fill="none" stroke="#333" stroke-width="1.1"/>
<line x1="647.3" y1="523.6" x2="647.3" y2="527.9" stroke="#333" stroke-width="1.1"/>
<text x="647.3" y="543.6" font-size="16.6" text-anchor="middle" fill="#000">0</text>
<line x1="713.4" y1="523.6" x2="713.4" y2="527.9" stroke="#333" stroke-width="1.1"/>
<text x="713.4" y="543.6" font-size="16.6" text-anchor="middle" fill="#000">10</text>
<line x1="779.5" y1="523.6" x2="779.5" y2="527.9" stroke="#333" stroke-width="1.1"/>
<text x="779.5" y="543.6" font-size="16.6" text-anchor="middle" fill="#000">20</text>
<line x1="845.5999999999999" y1="523.6" x2="845.5999999999999" y2="527.9" stroke="#333" stroke-width="1.1"/>
<text x="845.5999999999999" y="543.6" font-size="16.6" text-anchor="middle" fill="#000">30</text>
<line x1="395.9" y1="344.59999999999997" x2="399.9" y2="344.59999999999997" stroke="#333" stroke-width="1.1"/>
<text x="392.4" y="350.49999999999994" font-size="16.4" text-anchor="end" fill="#000">2</text>
<line x1="395.9" y1="401.4" x2="399.9" y2="401.4" stroke="#333" stroke-width="1.1"/>
<text x="392.4" y="407.29999999999995" font-size="16.4" text-anchor="end" fill="#000">0</text>
<line x1="395.9" y1="458.2" x2="399.9" y2="458.2" stroke="#333" stroke-width="1.1"/>
<text x="392.4" y="464.09999999999997" font-size="16.4" text-anchor="end" fill="#000">-2</text>
<line x1="395.9" y1="515.0" x2="399.9" y2="515.0" stroke="#333" stroke-width="1.1"/>
<text x="392.4" y="520.9" font-size="16.4" text-anchor="end" fill="#000">-4</text>
<text x="372.0" y="424.1" font-size="16.7" text-anchor="middle" fill="#000" transform="rotate(-90 372.0 424.1)">Protein expression</text>
<text x="627.5" y="562.0" font-size="16.7" text-anchor="middle" fill="#000">Days from admission</text>
<rect x="388.2" y="574.7" width="42.69999999999999" height="24" fill="#fff" stroke="none"/>
<rect x="388.2" y="574.7" width="42.69999999999999" height="24" fill="#A2BFF4" stroke="none"/>
<rect x="388.2" y="574.7" width="42.69999999999999" height="24" fill="none" stroke="#222" stroke-width="1.1"/>
<text x="409.54999999999995" y="588.8" font-size="10.3" text-anchor="middle" fill="#222">n=172</text>
<rect x="454.3" y="574.7" width="42.80000000000001" height="24" fill="#fff" stroke="none"/>
<rect x="454.3" y="574.7" width="42.80000000000001" height="24" fill="#A2BFF4" stroke="none"/>
<rect x="454.3" y="574.7" width="42.80000000000001" height="24" fill="none" stroke="#222" stroke-width="1.1"/>
<text x="475.70000000000005" y="588.8" font-size="10.3" text-anchor="middle" fill="#222">n=170</text>
<rect x="520.4" y="574.7" width="42.10000000000002" height="24" fill="#fff" stroke="none"/>
<rect x="520.4" y="574.7" width="11.399999999999977" height="24" fill="#A2BFF4" stroke="none"/>
<rect x="520.4" y="574.7" width="42.10000000000002" height="24" fill="none" stroke="#222" stroke-width="1.1"/>
<text x="541.45" y="588.8" font-size="10.3" text-anchor="middle" fill="#222">n=47</text>
<rect x="578.4" y="574.7" width="42.10000000000002" height="24" fill="#fff" stroke="none"/>
<rect x="578.4" y="574.7" width="7.800000000000068" height="24" fill="#A2BFF4" stroke="none"/>
<rect x="578.4" y="574.7" width="42.10000000000002" height="24" fill="none" stroke="#222" stroke-width="1.1"/>
<text x="599.45" y="588.8" font-size="10.3" text-anchor="middle" fill="#222">n=33</text>
<rect x="634.3" y="574.7" width="42.5" height="24" fill="#fff" stroke="none"/>
<rect x="634.3" y="574.7" width="42.5" height="24" fill="#FFC966" stroke="none"/>
<rect x="634.3" y="574.7" width="42.5" height="24" fill="none" stroke="#222" stroke-width="1.1"/>
<text x="655.55" y="588.8" font-size="10.3" text-anchor="middle" fill="#222">n=86</text>
<rect x="692.2" y="574.7" width="42.299999999999955" height="24" fill="#fff" stroke="none"/>
<rect x="692.2" y="574.7" width="42.299999999999955" height="24" fill="#FFC966" stroke="none"/>
<rect x="692.2" y="574.7" width="42.299999999999955" height="24" fill="none" stroke="#222" stroke-width="1.1"/>
<text x="713.35" y="588.8" font-size="10.3" text-anchor="middle" fill="#222">n=86</text>
<rect x="758.2" y="574.7" width="42.19999999999993" height="24" fill="#fff" stroke="none"/>
<rect x="758.2" y="574.7" width="11.399999999999977" height="24" fill="#FFC966" stroke="none"/>
<rect x="758.2" y="574.7" width="42.19999999999993" height="24" fill="none" stroke="#222" stroke-width="1.1"/>
<text x="779.3" y="588.8" font-size="10.3" text-anchor="middle" fill="#222">n=23</text>
<rect x="824.6" y="574.7" width="41.799999999999955" height="24" fill="#fff" stroke="none"/>
<rect x="824.6" y="574.7" width="5.5" height="24" fill="#FFC966" stroke="none"/>
<rect x="824.6" y="574.7" width="41.799999999999955" height="24" fill="none" stroke="#222" stroke-width="1.1"/>
<text x="845.5" y="588.8" font-size="10.3" text-anchor="middle" fill="#222">n=12</text>
<rect x="1" y="1" width="867" height="595" fill="none" stroke="#000" stroke-width="2.2"/></svg>
</body></html>
